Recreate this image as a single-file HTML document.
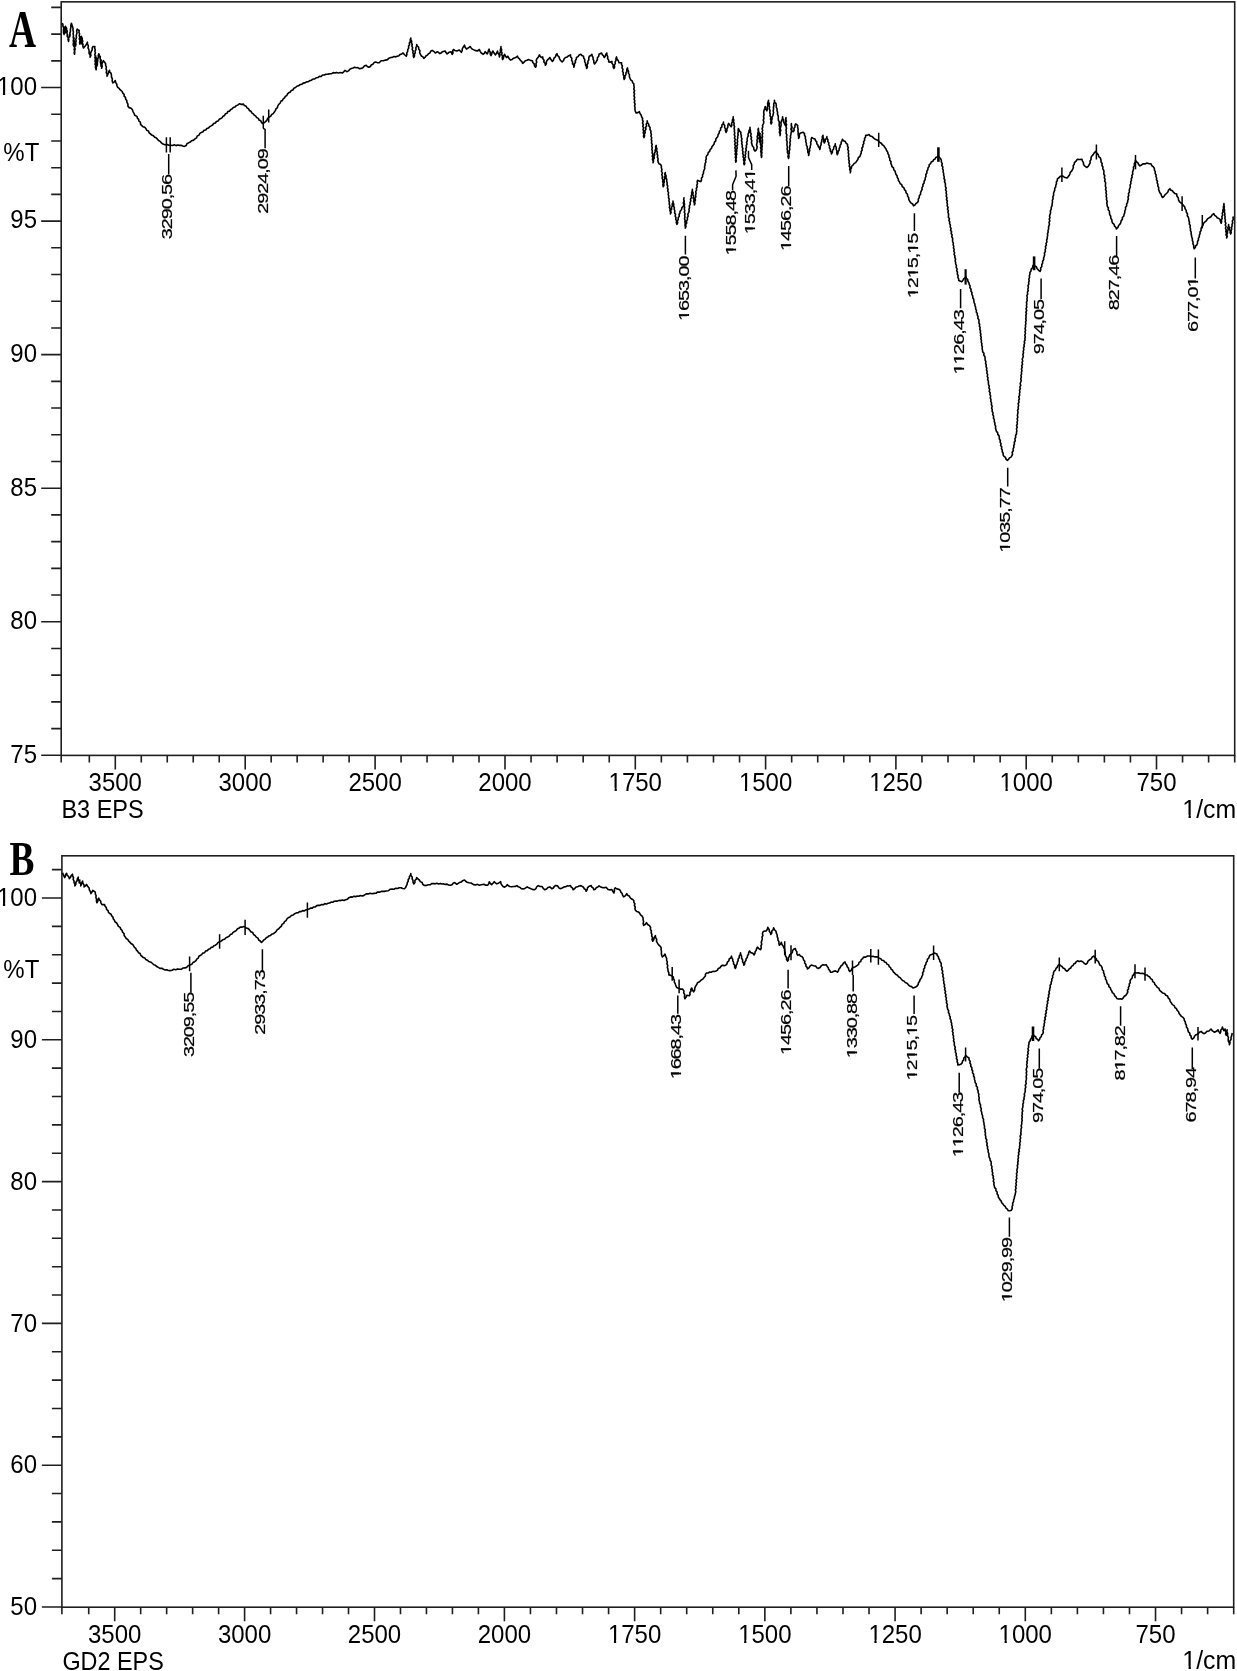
<!DOCTYPE html>
<html><head><meta charset="utf-8"><style>
html,body{margin:0;padding:0;background:#fff;overflow:hidden;width:1237px;height:1671px;}
svg{display:block;will-change:transform;}
text{font-family:"Liberation Sans", sans-serif;fill:#000;font-kerning:none;font-feature-settings:"kern" 0;}
.pk{stroke:#000;stroke-width:0.2px;}
.lt{font-family:"Liberation Serif", serif;font-weight:bold;font-size:52px;}
</style></head><body>
<svg width="1237" height="1671" viewBox="0 0 1237 1671">
<rect x="61.2" y="1.85" width="1173.5" height="753.55" fill="none" stroke="#1e1e1e" stroke-width="1.6"/>
<path d="M41.2 755.3H61.2 M51.2 728.59H61.2 M51.2 701.88H61.2 M51.2 675.17H61.2 M51.2 648.46H61.2 M41.2 621.75H61.2 M51.2 595.04H61.2 M51.2 568.33H61.2 M51.2 541.62H61.2 M51.2 514.91H61.2 M41.2 488.2H61.2 M51.2 461.49H61.2 M51.2 434.78H61.2 M51.2 408.07H61.2 M51.2 381.36H61.2 M41.2 354.65H61.2 M51.2 327.94H61.2 M51.2 301.23H61.2 M51.2 274.52H61.2 M51.2 247.81H61.2 M41.2 221.1H61.2 M51.2 194.39H61.2 M51.2 167.68H61.2 M51.2 140.97H61.2 M51.2 114.26H61.2 M41.2 87.55H61.2 M51.2 60.84H61.2 M51.2 34.13H61.2 M51.2 7.42H61.2 M89.32 755.4V762.4 M115.3 755.4V769.4 M141.28 755.4V762.4 M167.26 755.4V762.4 M193.24 755.4V762.4 M219.22 755.4V762.4 M245.2 755.4V769.4 M271.18 755.4V762.4 M297.16 755.4V762.4 M323.14 755.4V762.4 M349.12 755.4V762.4 M375.1 755.4V769.4 M401.08 755.4V762.4 M427.06 755.4V762.4 M453.04 755.4V762.4 M479.02 755.4V762.4 M505 755.4V769.4 M531.06 755.4V762.4 M557.12 755.4V762.4 M583.18 755.4V762.4 M609.24 755.4V762.4 M635.3 755.4V769.4 M661.36 755.4V762.4 M687.42 755.4V762.4 M713.48 755.4V762.4 M739.54 755.4V762.4 M765.6 755.4V769.4 M791.66 755.4V762.4 M817.72 755.4V762.4 M843.78 755.4V762.4 M869.84 755.4V762.4 M895.9 755.4V769.4 M921.96 755.4V762.4 M948.02 755.4V762.4 M974.08 755.4V762.4 M1000.14 755.4V762.4 M1026.2 755.4V769.4 M1052.26 755.4V762.4 M1078.32 755.4V762.4 M1104.38 755.4V762.4 M1130.44 755.4V762.4 M1156.5 755.4V769.4 M1182.56 755.4V762.4 M1208.62 755.4V762.4 M61.2 755.4V762.4 M1234.7 755.4V762.4" stroke="#1e1e1e" stroke-width="1.6" fill="none"/>
<g transform="translate(37 94.85) scale(1 1.05)"><text class="ax" x="-40.04" y="0" style="font-size:24px;">100</text><rect x="-39" y="-2.79" width="4.94" height="4.39" fill="#fff"/><rect x="-31.84" y="-2.79" width="4.87" height="4.39" fill="#fff"/></g>
<g transform="translate(37 228.4) scale(1 1.05)"><text class="ax" x="-26.7" y="0" style="font-size:24px;">95</text></g>
<g transform="translate(37 361.95) scale(1 1.05)"><text class="ax" x="-26.7" y="0" style="font-size:24px;">90</text></g>
<g transform="translate(37 495.5) scale(1 1.05)"><text class="ax" x="-26.7" y="0" style="font-size:24px;">85</text></g>
<g transform="translate(37 629.05) scale(1 1.05)"><text class="ax" x="-26.7" y="0" style="font-size:24px;">80</text></g>
<g transform="translate(37 762.6) scale(1 1.05)"><text class="ax" x="-26.7" y="0" style="font-size:24px;">75</text></g>
<g transform="translate(3.3 161.3) scale(1 1.05)"><text class="ax" x="0" y="0" style="font-size:24px;">%T</text></g>
<g transform="translate(115.3 790.6) scale(1 1.05)"><text class="ax" x="-26.7" y="0" style="font-size:24px;">3500</text></g>
<g transform="translate(245.2 790.6) scale(1 1.05)"><text class="ax" x="-26.7" y="0" style="font-size:24px;">3000</text></g>
<g transform="translate(375.1 790.6) scale(1 1.05)"><text class="ax" x="-26.7" y="0" style="font-size:24px;">2500</text></g>
<g transform="translate(505 790.6) scale(1 1.05)"><text class="ax" x="-26.7" y="0" style="font-size:24px;">2000</text></g>
<g transform="translate(635.3 790.6) scale(1 1.05)"><text class="ax" x="-26.7" y="0" style="font-size:24px;">1750</text><rect x="-25.65" y="-2.79" width="4.94" height="4.39" fill="#fff"/><rect x="-18.49" y="-2.79" width="4.87" height="4.39" fill="#fff"/></g>
<g transform="translate(765.6 790.6) scale(1 1.05)"><text class="ax" x="-26.7" y="0" style="font-size:24px;">1500</text><rect x="-25.65" y="-2.79" width="4.94" height="4.39" fill="#fff"/><rect x="-18.49" y="-2.79" width="4.87" height="4.39" fill="#fff"/></g>
<g transform="translate(895.9 790.6) scale(1 1.05)"><text class="ax" x="-26.7" y="0" style="font-size:24px;">1250</text><rect x="-25.65" y="-2.79" width="4.94" height="4.39" fill="#fff"/><rect x="-18.49" y="-2.79" width="4.87" height="4.39" fill="#fff"/></g>
<g transform="translate(1026.2 790.6) scale(1 1.05)"><text class="ax" x="-26.7" y="0" style="font-size:24px;">1000</text><rect x="-25.65" y="-2.79" width="4.94" height="4.39" fill="#fff"/><rect x="-18.49" y="-2.79" width="4.87" height="4.39" fill="#fff"/></g>
<g transform="translate(1156.5 790.6) scale(1 1.05)"><text class="ax" x="-20.02" y="0" style="font-size:24px;">750</text></g>
<g transform="translate(61.4 817.8) scale(0.98 1.05)"><text class="ax" x="0" y="0" style="font-size:24px;">B3 EPS</text></g>
<g transform="translate(1236.2 817.8) scale(1.035 1.05)"><text class="ax" x="-52.01" y="0" style="font-size:24px;">1/cm</text><rect x="-50.97" y="-2.79" width="4.94" height="4.39" fill="#fff"/><rect x="-43.8" y="-2.79" width="4.87" height="4.39" fill="#fff"/></g>
<text class="lt" transform="translate(9 46.9) scale(0.72 1)" style="font-size:52px">A</text>
<rect x="61.9" y="855.8" width="1171.8" height="751.4" fill="none" stroke="#1e1e1e" stroke-width="1.6"/>
<path d="M41.9 1607H61.9 M51.9 1578.64H61.9 M51.9 1550.28H61.9 M51.9 1521.92H61.9 M51.9 1493.56H61.9 M41.9 1465.2H61.9 M51.9 1436.84H61.9 M51.9 1408.48H61.9 M51.9 1380.12H61.9 M51.9 1351.76H61.9 M41.9 1323.4H61.9 M51.9 1295.04H61.9 M51.9 1266.68H61.9 M51.9 1238.32H61.9 M51.9 1209.96H61.9 M41.9 1181.6H61.9 M51.9 1153.24H61.9 M51.9 1124.88H61.9 M51.9 1096.52H61.9 M51.9 1068.16H61.9 M41.9 1039.8H61.9 M51.9 1011.44H61.9 M51.9 983.08H61.9 M51.9 954.72H61.9 M51.9 926.36H61.9 M41.9 898H61.9 M51.9 869.64H61.9 M88.72 1607.2V1614.2 M114.7 1607.2V1621.2 M140.68 1607.2V1614.2 M166.66 1607.2V1614.2 M192.64 1607.2V1614.2 M218.62 1607.2V1614.2 M244.6 1607.2V1621.2 M270.58 1607.2V1614.2 M296.56 1607.2V1614.2 M322.54 1607.2V1614.2 M348.52 1607.2V1614.2 M374.5 1607.2V1621.2 M400.48 1607.2V1614.2 M426.46 1607.2V1614.2 M452.44 1607.2V1614.2 M478.42 1607.2V1614.2 M504.4 1607.2V1621.2 M530.44 1607.2V1614.2 M556.49 1607.2V1614.2 M582.53 1607.2V1614.2 M608.58 1607.2V1614.2 M634.62 1607.2V1621.2 M660.67 1607.2V1614.2 M686.71 1607.2V1614.2 M712.76 1607.2V1614.2 M738.8 1607.2V1614.2 M764.85 1607.2V1621.2 M790.89 1607.2V1614.2 M816.94 1607.2V1614.2 M842.99 1607.2V1614.2 M869.03 1607.2V1614.2 M895.08 1607.2V1621.2 M921.12 1607.2V1614.2 M947.16 1607.2V1614.2 M973.21 1607.2V1614.2 M999.25 1607.2V1614.2 M1025.3 1607.2V1621.2 M1051.35 1607.2V1614.2 M1077.39 1607.2V1614.2 M1103.43 1607.2V1614.2 M1129.48 1607.2V1614.2 M1155.53 1607.2V1621.2 M1181.57 1607.2V1614.2 M1207.62 1607.2V1614.2 M61.9 1607.2V1614.2 M1233.7 1607.2V1614.2" stroke="#1e1e1e" stroke-width="1.6" fill="none"/>
<g transform="translate(37 906.1) scale(1 1.05)"><text class="ax" x="-40.04" y="0" style="font-size:24px;">100</text><rect x="-39" y="-2.79" width="4.94" height="4.39" fill="#fff"/><rect x="-31.84" y="-2.79" width="4.87" height="4.39" fill="#fff"/></g>
<g transform="translate(37 1047.9) scale(1 1.05)"><text class="ax" x="-26.7" y="0" style="font-size:24px;">90</text></g>
<g transform="translate(37 1189.7) scale(1 1.05)"><text class="ax" x="-26.7" y="0" style="font-size:24px;">80</text></g>
<g transform="translate(37 1331.5) scale(1 1.05)"><text class="ax" x="-26.7" y="0" style="font-size:24px;">70</text></g>
<g transform="translate(37 1473.3) scale(1 1.05)"><text class="ax" x="-26.7" y="0" style="font-size:24px;">60</text></g>
<g transform="translate(37 1615.1) scale(1 1.05)"><text class="ax" x="-26.7" y="0" style="font-size:24px;">50</text></g>
<g transform="translate(3.3 977.6) scale(1 1.05)"><text class="ax" x="0" y="0" style="font-size:24px;">%T</text></g>
<g transform="translate(114.7 1642.7) scale(1 1.05)"><text class="ax" x="-26.7" y="0" style="font-size:24px;">3500</text></g>
<g transform="translate(244.6 1642.7) scale(1 1.05)"><text class="ax" x="-26.7" y="0" style="font-size:24px;">3000</text></g>
<g transform="translate(374.5 1642.7) scale(1 1.05)"><text class="ax" x="-26.7" y="0" style="font-size:24px;">2500</text></g>
<g transform="translate(504.4 1642.7) scale(1 1.05)"><text class="ax" x="-26.7" y="0" style="font-size:24px;">2000</text></g>
<g transform="translate(634.62 1642.7) scale(1 1.05)"><text class="ax" x="-26.7" y="0" style="font-size:24px;">1750</text><rect x="-25.65" y="-2.79" width="4.94" height="4.39" fill="#fff"/><rect x="-18.49" y="-2.79" width="4.87" height="4.39" fill="#fff"/></g>
<g transform="translate(764.85 1642.7) scale(1 1.05)"><text class="ax" x="-26.7" y="0" style="font-size:24px;">1500</text><rect x="-25.65" y="-2.79" width="4.94" height="4.39" fill="#fff"/><rect x="-18.49" y="-2.79" width="4.87" height="4.39" fill="#fff"/></g>
<g transform="translate(895.08 1642.7) scale(1 1.05)"><text class="ax" x="-26.7" y="0" style="font-size:24px;">1250</text><rect x="-25.65" y="-2.79" width="4.94" height="4.39" fill="#fff"/><rect x="-18.49" y="-2.79" width="4.87" height="4.39" fill="#fff"/></g>
<g transform="translate(1025.3 1642.7) scale(1 1.05)"><text class="ax" x="-26.7" y="0" style="font-size:24px;">1000</text><rect x="-25.65" y="-2.79" width="4.94" height="4.39" fill="#fff"/><rect x="-18.49" y="-2.79" width="4.87" height="4.39" fill="#fff"/></g>
<g transform="translate(1155.53 1642.7) scale(1 1.05)"><text class="ax" x="-20.02" y="0" style="font-size:24px;">750</text></g>
<g transform="translate(62.4 1669.6) scale(0.975 1.05)"><text class="ax" x="0" y="0" style="font-size:24px;">GD2 EPS</text></g>
<g transform="translate(1236.2 1669.3) scale(1.035 1.05)"><text class="ax" x="-52.01" y="0" style="font-size:24px;">1/cm</text><rect x="-50.97" y="-2.79" width="4.94" height="4.39" fill="#fff"/><rect x="-43.8" y="-2.79" width="4.87" height="4.39" fill="#fff"/></g>
<text class="lt" transform="translate(9.4 874.9) scale(0.756 1)" style="font-size:49.5px">B</text>
<g transform="translate(172.4 174.9) rotate(-90) scale(1.42 1)"><text class="pk" x="-45.36" y="0" style="font-size:14px;letter-spacing:-0.75px;">3290,56</text></g>
<g transform="translate(267.5 149.3) rotate(-90) scale(1.42 1)"><text class="pk" x="-45.36" y="0" style="font-size:14px;letter-spacing:-0.75px;">2924,09</text></g>
<g transform="translate(688.9 256.5) rotate(-90) scale(1.42 1)"><text class="pk" x="-45.36" y="0" style="font-size:14px;letter-spacing:-0.75px;">1653,00</text><rect x="-45" y="-2.05" width="3.11" height="3.65" fill="#fff"/><rect x="-40.55" y="-2.05" width="3.09" height="3.65" fill="#fff"/></g>
<g transform="translate(735.5 191.05) rotate(-90) scale(1.42 1)"><text class="pk" x="-45.36" y="0" style="font-size:14px;letter-spacing:-0.75px;">1558,48</text><rect x="-45" y="-2.05" width="3.11" height="3.65" fill="#fff"/><rect x="-40.55" y="-2.05" width="3.09" height="3.65" fill="#fff"/></g>
<g transform="translate(754.8 169.85) rotate(-90) scale(1.42 1)"><text class="pk" x="-45.36" y="0" style="font-size:14px;letter-spacing:-0.75px;">1533,41</text><rect x="-45" y="-2.05" width="3.11" height="3.65" fill="#fff"/><rect x="-40.55" y="-2.05" width="3.09" height="3.65" fill="#fff"/><rect x="-6.68" y="-2.05" width="3.11" height="3.65" fill="#fff"/><rect x="-2.23" y="-2.05" width="3.09" height="3.65" fill="#fff"/></g>
<g transform="translate(791.4 186.55) rotate(-90) scale(1.42 1)"><text class="pk" x="-45.36" y="0" style="font-size:14px;letter-spacing:-0.75px;">1456,26</text><rect x="-45" y="-2.05" width="3.11" height="3.65" fill="#fff"/><rect x="-40.55" y="-2.05" width="3.09" height="3.65" fill="#fff"/></g>
<g transform="translate(917.5 233.85) rotate(-90) scale(1.42 1)"><text class="pk" x="-45.36" y="0" style="font-size:14px;letter-spacing:-0.75px;">1215,15</text><rect x="-45" y="-2.05" width="3.11" height="3.65" fill="#fff"/><rect x="-40.55" y="-2.05" width="3.09" height="3.65" fill="#fff"/><rect x="-30.93" y="-2.05" width="3.11" height="3.65" fill="#fff"/><rect x="-26.48" y="-2.05" width="3.09" height="3.65" fill="#fff"/><rect x="-13.72" y="-2.05" width="3.11" height="3.65" fill="#fff"/><rect x="-9.26" y="-2.05" width="3.09" height="3.65" fill="#fff"/></g>
<g transform="translate(963.8 310.2) rotate(-90) scale(1.42 1)"><text class="pk" x="-45.36" y="0" style="font-size:14px;letter-spacing:-0.75px;">1126,43</text><rect x="-45" y="-2.05" width="3.11" height="3.65" fill="#fff"/><rect x="-40.55" y="-2.05" width="3.09" height="3.65" fill="#fff"/><rect x="-37.96" y="-2.05" width="3.11" height="3.65" fill="#fff"/><rect x="-33.51" y="-2.05" width="3.09" height="3.65" fill="#fff"/></g>
<g transform="translate(1009.9 488.35) rotate(-90) scale(1.42 1)"><text class="pk" x="-45.36" y="0" style="font-size:14px;letter-spacing:-0.75px;">1035,77</text><rect x="-45" y="-2.05" width="3.11" height="3.65" fill="#fff"/><rect x="-40.55" y="-2.05" width="3.09" height="3.65" fill="#fff"/></g>
<g transform="translate(1043.7 299.95) rotate(-90) scale(1.42 1)"><text class="pk" x="-38.32" y="0" style="font-size:14px;letter-spacing:-0.75px;">974,05</text></g>
<g transform="translate(1119.4 255.85) rotate(-90) scale(1.42 1)"><text class="pk" x="-38.32" y="0" style="font-size:14px;letter-spacing:-0.75px;">827,46</text></g>
<g transform="translate(1198 277.6) rotate(-90) scale(1.42 1)"><text class="pk" x="-38.32" y="0" style="font-size:14px;letter-spacing:-0.75px;">677,01</text><rect x="-6.68" y="-2.05" width="3.11" height="3.65" fill="#fff"/><rect x="-2.23" y="-2.05" width="3.09" height="3.65" fill="#fff"/></g>
<path d="M61.9 23.5 L62.9 24.2 L62.92 26.15 L63.7 28.03 L63.5 30 L63.43 32.25 L64.1 34.4 L64.44 32.56 L64.06 30.68 L64.75 28.87 L64.6 27 L64.43 29.03 L65.32 30.97 L65.1 33 L65.39 31.36 L65.21 29.69 L65.87 28.08 L65.6 26.4 L65.5 28.29 L66.31 30.1 L66.1 32 L66.48 30.02 L66.6 28 L66.5 29.63 L67.31 31.16 L66.92 32.82 L67.3 34.4 L67.17 36.22 L68.31 37.83 L68.06 39.67 L68.5 41.4 L68.82 39.82 L68.55 38.17 L69.45 36.65 L69.2 35 L69.7 36.8 L70.13 35 L69.85 33.13 L70.49 31.35 L70.4 29.5 L70.88 27.42 L70.86 25.27 L71.4 23.2 L72.4 26.2 L73.1 28.6 L72.88 30.35 L73.49 32.07 L73.04 33.83 L73.51 35.55 L73.15 37.31 L73.68 39.03 L73.22 40.79 L73.64 42.52 L73.15 44.27 L73.6 46 L74.01 44.42 L73.46 42.78 L74.09 41.21 L73.55 39.57 L74.1 38 L73.73 39.64 L74.35 41.26 L73.98 42.9 L74.62 44.51 L73.94 46.16 L74.77 47.77 L74.11 49.42 L74.82 51.03 L74.11 52.68 L74.5 54.3 L74.81 52.59 L74.35 50.85 L75.16 49.17 L74.43 47.41 L75.21 45.73 L75 44 L75.5 46 L75.96 44.37 L75.64 42.67 L76.14 41.05 L75.69 39.34 L76.48 37.74 L76.17 36.04 L76.5 34.4 L77.04 32.67 L76.61 30.82 L77.2 29.1 L78.3 30 L79.2 30.5 L78.94 32.22 L79.63 33.89 L79.19 35.61 L79.84 37.28 L79.26 39.02 L80.02 40.68 L79.55 42.41 L79.9 44.1 L80.31 42.35 L80.01 40.54 L80.42 38.79 L80.4 37 L80.21 39.03 L81.18 40.96 L80.9 43 L81.35 41.35 L80.89 39.63 L81.46 37.99 L81.4 36.3 L81.23 38.24 L82.09 40.12 L81.4 42.1 L81.9 44 L82.34 42.02 L81.76 39.97 L82.3 38 L82.19 39.61 L82.8 41.18 L82.17 42.83 L83.02 44.38 L82.8 46 L83.5 48 L85.2 46 L86.54 44.24 L87.4 42.2 L87.52 44.08 L88.38 45.82 L87.99 47.8 L88.89 49.54 L89.1 51.4 L89.06 53.4 L90.15 55.2 L90.1 57.2 L90.91 55.35 L90.54 53.26 L91.3 51.4 L92.24 49.89 L92.15 48.04 L93 46.5 L94.9 46.5 L94.63 48.12 L95.25 49.71 L94.86 51.33 L95.46 52.92 L94.78 54.55 L95.33 56.14 L94.88 57.76 L95.5 59.35 L95 60.98 L95.53 62.57 L95.02 64.19 L95.69 65.78 L95.4 67.4 L95.78 65.78 L95.24 64.13 L95.72 62.52 L95.42 60.88 L95.88 59.26 L95.42 57.62 L95.8 56 L95.43 57.73 L96.26 59.44 L95.53 61.18 L96.34 62.89 L95.77 64.63 L96.43 66.34 L95.72 68.08 L96.1 69.8 L96.33 68.12 L96.1 66.42 L96.45 64.75 L96.01 63.04 L96.67 61.38 L96.36 59.68 L96.6 58 L96.35 59.62 L97 61.19 L96.68 62.81 L97.11 64.39 L97 66 L97.45 64.28 L97.3 62.5 L97.79 60.79 L97.68 58.98 L98.55 57.34 L98.23 55.49 L98.8 53.8 L99.34 55.36 L100.3 56.7 L100.12 58.58 L100.64 60.41 L100.34 62.29 L100.97 64.13 L100.8 66 L101.13 64.01 L100.9 61.99 L101.2 60 L100.86 61.68 L101.66 63.31 L101.24 64.99 L101.85 66.62 L101.6 68.3 L102.19 66.58 L101.86 64.75 L102.2 63 L103.4 60.6 L104.39 62.13 L105.6 63.5 L105.62 65.32 L106.36 67.06 L106.02 68.92 L106.75 70.66 L106.25 72.54 L107.1 74.27 L107 76.1 L107.94 74.22 L108.5 72.2 L109.5 70.3 L109.72 72.06 L111.13 73.36 L111.4 75.1 L111.48 77.11 L112.35 78.96 L112.19 81.01 L112.9 82.9 L114.28 81.88 L115.3 80.5 L115.57 82.36 L116.66 83.96 L117 85.8 L117.74 87.3 L119.12 88.31 L120 89.7 L122.2 91.5 L122.76 93.1 L124.13 94.3 L124.13 96.19 L125.47 97.39 L125.67 99.18 L126.8 100.5 L126.94 102.44 L127.96 104.22 L127.9 106.2 L129.18 107.63 L131.06 108.25 L132.4 109.6 L132.97 111.58 L134.06 113.35 L134.7 115.3 L137 116.4 L137.38 118.08 L138.63 119.33 L138.9 121.08 L140.39 122.2 L140.47 124.04 L141.5 125.4 L142.89 126.68 L144.75 127.34 L146 128.8 L146.79 130.37 L148.52 131.11 L149.15 132.82 L150.5 133.9 L151.71 135.12 L153.37 135.74 L154.46 137.12 L156.15 137.7 L157.3 139 L158.54 140.48 L160.28 141.4 L161.46 142.95 L163 144.1 L164.93 144.72 L166.98 144.42 L168.88 145.21 L170.9 145.2 L172.6 145.44 L174.3 144.79 L176 145.62 L177.7 145.06 L179.4 145.4 L181.1 145.2 L182.72 146.02 L184.5 146.4 L186.13 145.57 L186.92 143.78 L188.5 142.9 L190.25 142.08 L191.64 140.68 L193.56 140.12 L195 138.8 L196.56 137.8 L197.26 135.94 L199.01 135.13 L199.83 133.39 L201.4 132.4 L202.98 131.76 L204.01 130.3 L205.81 129.98 L206.83 128.51 L208.53 128.06 L209.62 126.69 L211.1 125.9 L212.6 125.01 L213.62 123.48 L215.38 122.93 L216.42 121.43 L218.22 120.94 L219.17 119.32 L220.8 118.6 L222.18 117.67 L223.06 116.2 L224.59 115.43 L225.37 113.85 L227.08 113.28 L227.78 111.6 L229.57 111.12 L230.5 109.7 L232.08 108.86 L233.3 107.48 L235.04 106.89 L236.35 105.64 L238 104.92 L239.4 103.8 L241.42 104.36 L243.5 104.1 L244.44 105.58 L246.2 106.25 L246.97 107.91 L248.58 108.72 L249.29 110.43 L250.95 111.2 L251.76 112.81 L253.2 113.8 L254.27 115.16 L255.74 116.11 L256.68 117.59 L258.34 118.36 L259.04 120.08 L260.78 120.77 L261.49 122.48 L262.9 123.5 L265.3 121.9 L266.81 120.41 L267.67 118.39 L269.3 117 L270.8 116.08 L271.65 114.5 L273.22 113.65 L274.2 112.2 L275.3 110.66 L275.97 108.87 L277.44 107.55 L277.91 105.64 L279 104.1 L280.24 102.98 L280.82 101.3 L282.44 100.51 L283.18 98.97 L284.53 97.94 L285.31 96.43 L286.82 95.55 L287.5 93.95 L288.7 92.8 L290.31 92.05 L291.24 90.44 L293.03 89.89 L293.84 88.14 L295.59 87.56 L296.8 86.3 L298.51 85.78 L299.94 84.61 L301.74 84.32 L303.16 83.14 L304.98 82.87 L306.49 81.9 L308.35 81.72 L309.8 80.6 L311.49 80.17 L312.9 79.02 L314.73 78.94 L316.15 77.82 L317.91 77.54 L319.3 76.37 L321.23 76.53 L322.52 75.07 L324.35 75 L325.9 74.2 L327.97 74.15 L330 73.7 L331.69 73.7 L333.16 72.61 L334.94 73.03 L336.5 72.4 L338.4 72.95 L340.4 72.46 L342.3 73 L343.75 71.85 L344.9 70.4 L346.8 71.7 L348.48 70.88 L349.67 69.38 L351.3 68.5 L353.03 68.05 L354.6 67.2 L356.17 67.68 L357.84 67.63 L359.31 68.61 L361 68.5 L362.88 67.67 L364.29 66.08 L366.2 65.3 L367.3 66.52 L368.8 67.2 L370.37 66.5 L371.24 64.92 L372.84 64.26 L373.85 62.85 L375.3 62 L377.21 62.58 L379.2 62.7 L381.1 60.7 L383.4 60.8 L385.6 60.1 L387.52 59.61 L388.96 58.16 L390.8 57.5 L392.47 57.41 L393.99 56.55 L395.74 56.84 L397.3 56.2 L398.91 55.68 L400.1 54.41 L401.72 53.92 L403.1 53 L404.55 54.75 L406.3 56.2 L406.86 54.59 L406.82 52.83 L407.68 51.3 L407.78 49.58 L408.67 48.05 L408.53 46.27 L409.54 44.77 L409.29 42.97 L410.38 41.49 L410.21 39.7 L410.8 38.1 L410.76 39.76 L411.68 41.27 L411.39 42.97 L412.23 44.5 L411.86 46.21 L412.68 47.74 L412.11 49.48 L413.19 50.97 L412.82 52.69 L413.47 54.24 L413.26 55.93 L413.8 57.5 L414.58 55.98 L414.3 54.23 L415.29 52.75 L415.07 51.01 L416.02 49.53 L415.83 47.79 L416.57 46.26 L416.7 44.6 L417.31 46.15 L418.6 47.2 L418.7 49.08 L419.96 50.64 L419.64 52.63 L420.5 54.3 L421.31 55.93 L422.98 56.88 L423.8 58.5 L425.06 57.48 L425.86 56.01 L427.31 55.18 L428.3 53.9 L429.84 53 L430.67 51.31 L432.2 50.4 L434.1 51.7 L435.4 53 L437.4 51.7 L439.9 53.6 L441.33 52.82 L442.5 51.7 L445.1 51 L445.97 52.54 L447.1 53.9 L449 52.3 L451 51.7 L452.2 54.3 L453.06 52.81 L452.69 51 L453.5 49.5 L454.8 50.4 L456.8 51 L459.3 50 L461.3 52.3 L462.22 50.71 L462.28 48.79 L463.2 47.2 L464.5 45.2 L465.14 47.33 L466.5 49.1 L468.4 47.8 L470.3 46.5 L471.08 47.97 L472.3 49.1 L474.9 50.4 L477.5 51 L479.4 49.5 L480.12 51.37 L481.3 53 L483.3 54.3 L484.45 53.14 L485.2 51.7 L487.2 53.9 L488.03 52.38 L488.33 50.65 L489.1 49.1 L489.25 50.82 L490.31 52.28 L490.22 54.06 L491 55.6 L491.78 54.13 L492.04 52.44 L492.9 51 L494.05 53.05 L495.5 54.9 L496.66 53.03 L497.5 51 L497.93 53.03 L499.14 54.81 L499.4 56.9 L499.92 55.21 L499.68 53.39 L500.52 51.75 L500.26 49.93 L500.87 48.25 L501 46.5 L500.9 48.16 L501.69 49.71 L501.26 51.42 L502.07 52.97 L501.65 54.67 L502.56 56.21 L502.19 57.9 L502.6 59.5 L503.54 57.87 L503.67 55.93 L504.6 54.3 L505.37 56.01 L506.5 57.5 L507.8 56.2 L508.88 58.3 L510.4 60.1 L512.16 59.42 L513.6 58.2 L515.74 57.57 L517.5 56.2 L518.16 57.76 L519.5 58.8 L520.39 60.43 L521.91 61.6 L522.7 63.3 L524.11 62.11 L525.3 60.7 L526.96 60.25 L528.5 59.5 L530.36 60.38 L532.4 60.7 L532.83 62.51 L534.17 63.87 L534.46 65.74 L535.6 67.2 L536.27 65.58 L535.89 63.8 L536.73 62.21 L536.24 60.42 L536.9 58.8 L538.41 56.99 L539.5 54.9 L540.16 56.41 L541.4 57.5 L542.7 56.9 L542.87 58.69 L544.05 60.16 L543.87 62.06 L545.18 63.5 L545.3 65.3 L546.37 63.72 L546.34 61.72 L547.3 60.1 L548.69 58.93 L549.8 57.5 L550.92 59.57 L552.4 61.4 L553.5 59.94 L553.97 58.12 L555.48 56.91 L555.95 55.08 L557 53.6 L557.55 55.49 L559.06 56.91 L559.6 58.8 L560.66 60.55 L562.1 62 L563.44 60.68 L564.15 58.89 L565.4 57.5 L567.27 56.96 L568.73 55.63 L570.5 54.9 L570.54 56.77 L571.82 58.31 L571.59 60.26 L572.6 61.87 L572.45 63.8 L573.75 65.33 L573.8 67.2 L574.41 65.63 L574.3 63.87 L575.49 62.45 L575.2 60.64 L576.31 59.21 L576.4 57.5 L578.06 56.66 L579.15 55.02 L580.9 54.3 L581.94 55.61 L583.5 56.2 L583.71 58.02 L584.79 59.62 L584.61 61.54 L585.51 63.18 L585.56 65.05 L586.41 66.7 L586.7 68.5 L587.48 66.83 L587.02 64.9 L587.98 63.26 L587.87 61.4 L588.82 59.77 L588.76 57.92 L589.3 56.2 L590.73 55.43 L591.9 54.3 L592.13 55.97 L593.13 57.44 L593.07 59.19 L593.82 60.72 L593.8 62.45 L594.5 64 L595.56 62.78 L596.4 61.4 L597.36 59.74 L597.39 57.74 L598.72 56.21 L599 54.3 L601.6 53 L602.29 54.6 L603.53 55.89 L604.2 57.5 L605.33 56.15 L605.74 54.39 L606.8 53 L606.87 54.87 L607.77 56.56 L607.6 58.47 L608.7 60.12 L608.7 62 L610.37 62.08 L611.9 61.4 L611.97 63.29 L613.2 64.87 L613.12 66.8 L613.9 68.5 L614.67 66.93 L614.27 65.1 L615.32 63.6 L615.14 61.82 L615.98 60.26 L615.96 58.52 L616.5 56.9 L616.98 58.99 L618.32 60.7 L619 62.7 L621.6 62.7 L621.49 64.44 L622.42 66.01 L621.95 67.81 L623.01 69.36 L622.46 71.17 L623.34 72.75 L623.13 74.5 L623.99 76.09 L623.71 77.86 L624.2 79.5 L624.95 77.92 L624.9 76.12 L625.9 74.61 L625.96 72.83 L626.82 71.29 L626.76 69.48 L627.5 67.9 L627.69 69.67 L628.59 71.27 L628.38 73.14 L629.51 74.68 L629.3 76.55 L630 78.2 L630.69 79.84 L632.16 80.96 L632.76 82.66 L633.9 84 L633.83 85.69 L634.26 87.35 L633.78 89.05 L634.58 90.7 L633.84 92.42 L634.6 94.07 L633.92 95.78 L634.71 97.43 L634.1 99.14 L634.83 100.79 L634.26 102.49 L635.15 104.14 L634.54 105.85 L635.02 107.51 L634.9 109.2 L635.24 111.21 L636.2 113 L637.91 112.63 L639.4 111.7 L639.98 113.43 L641.12 114.89 L641.57 116.69 L642.6 118.2 L642.44 119.83 L643.08 121.42 L642.52 123.08 L643.35 124.65 L642.78 126.31 L643.67 127.87 L642.99 129.54 L643.76 131.11 L643.21 132.77 L644.02 134.34 L643.45 136.01 L643.9 137.6 L644.56 135.98 L644.3 134.19 L645.22 132.62 L644.89 130.82 L645.97 129.28 L645.51 127.45 L646.6 125.92 L646.17 124.09 L647.25 122.56 L647.2 120.8 L647.53 122.63 L648.7 124.15 L648.9 126.03 L650.07 127.54 L649.98 129.53 L651 131.1 L650.8 132.79 L651.39 134.43 L650.92 136.13 L651.71 137.76 L651.24 139.46 L651.78 141.1 L651.44 142.8 L652.21 144.42 L651.68 146.13 L652.3 147.77 L651.82 149.47 L652.4 151.11 L652.07 152.81 L652.91 154.43 L652.23 156.15 L652.95 157.78 L652.44 159.49 L653.22 161.11 L653 162.8 L653.49 161.25 L653.38 159.6 L654.28 158.13 L653.95 156.43 L654.61 154.92 L654.36 153.24 L655.33 151.78 L655.08 150.1 L655.91 148.62 L655.55 146.92 L656.2 145.4 L656.21 147.1 L656.94 148.72 L656.44 150.48 L657.39 152.07 L656.98 153.83 L657.72 155.44 L657.39 157.18 L658.11 158.8 L657.81 160.54 L658.2 162.2 L658.97 163.74 L660.65 164.54 L661.4 166.1 L661.32 167.85 L661.92 169.53 L661.44 171.32 L662.39 172.97 L661.79 174.76 L662.49 176.44 L662.09 178.21 L663 179.87 L662.59 181.65 L663.25 183.33 L662.77 185.11 L663.3 186.8 L663.9 185.26 L663.55 183.6 L664.3 182.08 L664 180.42 L664.85 178.92 L664.36 177.23 L665.27 175.74 L664.72 174.04 L665.3 172.5 L665.3 174.29 L666.15 175.93 L665.95 177.75 L666.74 179.4 L666.71 181.2 L667.2 182.9 L667.01 184.57 L667.78 186.14 L667.34 187.83 L668.08 189.4 L667.68 191.09 L668.57 192.65 L668.15 194.34 L668.71 195.94 L668.46 197.61 L669.17 199.19 L668.89 200.86 L669.41 202.46 L669.24 204.13 L669.88 205.71 L669.31 207.42 L670.1 208.98 L669.92 210.65 L670.59 212.23 L670.4 213.9 L671.11 212.36 L670.62 210.59 L671.7 209.13 L671.46 207.4 L672.42 205.92 L672.18 204.19 L673.02 202.68 L673 201 L673.12 202.69 L673.81 204.29 L673.55 206.04 L674.36 207.62 L674.21 209.35 L674.88 210.95 L674.56 212.71 L675.51 214.27 L675.19 216.03 L675.98 217.61 L675.71 219.37 L676.58 220.93 L676.3 222.69 L676.9 224.3 L677.71 222.78 L677.26 220.94 L678.25 219.46 L678.12 217.71 L679.29 216.27 L679.07 214.49 L679.95 212.99 L680.1 211.3 L681.47 209.77 L681.94 207.67 L683.4 206.2 L683.78 204.54 L683.23 202.81 L684.13 201.19 L683.7 199.47 L684 197.8 L683.65 199.42 L684.28 200.99 L684.02 202.61 L684.62 204.19 L684.19 205.81 L684.66 207.39 L684.3 209.01 L684.83 210.59 L684.22 212.22 L685.1 213.78 L684.61 215.41 L684.98 216.99 L684.49 218.62 L685.11 220.19 L684.81 221.81 L685.27 223.39 L685 225.01 L685.38 226.59 L685.3 228.2 L686 226.54 L685.67 224.66 L686.74 223.07 L686.37 221.18 L687.47 219.6 L687.25 217.75 L688.19 216.14 L687.8 214.24 L688.6 212.6 L689.2 210.99 L688.93 209.24 L689.57 207.63 L689.26 205.87 L690.27 204.33 L689.99 202.57 L690.82 201 L690.46 199.24 L691.34 197.67 L691.16 195.93 L691.83 194.33 L691.6 192.59 L692.32 191 L692.4 189.3 L692.21 191.09 L693.11 192.73 L692.73 194.54 L693.65 196.19 L693.14 198.01 L694.09 199.65 L693.59 201.48 L694.39 203.14 L694.4 204.9 L695.05 203.32 L694.65 201.6 L695.46 200.03 L694.85 198.29 L695.87 196.75 L695.53 195.04 L696.06 193.44 L695.72 191.73 L696.6 190.18 L696.28 188.47 L697.19 186.92 L696.81 185.2 L697.47 183.62 L697.11 181.9 L697.6 180.3 L699.13 181.11 L700.8 181.6 L701.52 180.01 L701.4 178.19 L702.61 176.74 L702.55 174.93 L703.45 173.4 L703.47 171.61 L704.1 170 L704.77 168.48 L704.52 166.79 L705.11 165.26 L705 163.6 L705.9 162.12 L705.6 160.42 L706.3 158.91 L706.03 157.22 L706.7 155.7 L707.94 154.43 L708.18 152.54 L709.64 151.41 L710.13 149.67 L711.45 148.45 L711.92 146.71 L713.1 145.4 L714.09 143.95 L714.44 142.17 L715.78 140.89 L715.83 138.96 L717 137.6 L717.94 136.17 L718.15 134.44 L719.26 133.08 L719.35 131.29 L720.66 130.02 L720.57 128.16 L721.92 126.9 L721.87 125.06 L723.13 123.77 L723.5 122.1 L723.53 123.92 L724.75 125.44 L724.58 127.31 L725.41 128.92 L725.42 130.74 L726.1 132.4 L726.91 130.68 L726.98 128.75 L727.89 127.07 L727.88 125.11 L728.7 123.4 L729.83 125.09 L731.2 126.6 L731.92 125.06 L731.53 123.3 L732.43 121.8 L732.31 120.09 L733.11 118.57 L733.2 116.9 L733.13 118.54 L733.89 120.09 L733.4 121.77 L734.15 123.32 L733.83 124.98 L734.6 126.53 L734.1 128.21 L734.5 129.8 L734.33 131.43 L734.79 133.03 L734.25 134.68 L735.05 136.27 L734.4 137.92 L735.32 139.5 L734.51 141.16 L735.41 142.74 L734.66 144.4 L735.58 145.98 L734.83 147.64 L735.46 149.23 L735.05 150.87 L735.73 152.47 L735.03 154.12 L735.92 155.7 L735.25 157.35 L736.04 158.95 L735.49 160.59 L735.8 162.2 L736.35 160.63 L735.71 158.97 L736.43 157.42 L736.01 155.78 L736.86 154.23 L736.24 152.58 L736.85 151.01 L736.61 149.39 L737.26 147.83 L736.73 146.18 L737.58 144.63 L737.09 142.99 L737.67 141.42 L737.17 139.77 L737.81 138.21 L737.62 136.59 L738.21 135.02 L737.81 133.38 L738.32 131.81 L738.06 130.18 L738.4 128.6 L739.37 130.68 L740.9 132.4 L740.77 134.05 L741.39 135.62 L741.24 137.28 L741.96 138.84 L741.39 140.53 L742.08 142.1 L741.65 143.78 L742.36 145.35 L742.14 147.01 L742.95 148.56 L742.36 150.26 L743.1 151.82 L742.63 153.5 L743.53 155.05 L742.97 156.74 L743.95 158.28 L743.44 159.97 L744.22 161.52 L743.73 163.21 L744.2 164.8 L744.82 163.25 L744.19 161.55 L745.13 160.04 L744.56 158.35 L745.59 156.85 L745.12 155.17 L745.71 153.62 L745.34 151.96 L746.27 150.44 L745.79 148.77 L746.56 147.23 L746.2 145.57 L747.06 144.05 L746.45 142.35 L747.34 140.84 L747.07 139.18 L747.4 137.6 L748.22 135.98 L748 134.1 L748.89 132.5 L748.91 130.68 L749.91 129.1 L750 127.3 L750.05 129 L750.55 130.64 L750.34 132.37 L751.17 133.97 L750.58 135.74 L751.58 137.33 L751.03 139.09 L751.83 140.7 L751.4 142.45 L751.9 144.1 L752.4 145.97 L753.73 147.48 L753.87 149.51 L755 151.1 L756.31 149.89 L756.9 148.2 L757.16 146.57 L756.57 144.93 L756.9 143.3 L757.26 141.63 L756.94 139.92 L757.59 138.27 L757.11 136.54 L757.87 134.91 L757.7 133.2 L758.37 131.63 L757.98 129.91 L758.4 128.3 L758.42 130.55 L759.1 132.7 L758.71 134.55 L759.59 136.37 L758.97 138.23 L759.59 140.05 L759.4 141.9 L759.8 140.26 L759.25 138.54 L760.24 136.96 L759.62 135.23 L760.1 133.6 L759.78 135.38 L760.73 137.1 L760 138.9 L760.76 140.63 L760.6 142.4 L760.39 144.21 L761.13 145.98 L760.56 147.81 L761.26 149.59 L760.67 151.41 L761.27 153.19 L761.1 155 L761.5 157.4 L761.86 155.81 L761.49 154.19 L761.99 152.61 L761.55 150.99 L762.04 149.41 L761.79 147.79 L762.28 146.21 L761.74 144.58 L762.54 143.02 L762.3 141.4 L762.55 139.8 L761.89 138.19 L762.58 136.6 L762.08 135 L762.77 133.4 L762.07 131.8 L762.71 130.2 L762.08 128.6 L762.77 127 L762.5 125.4 L763.5 123.5 L763.86 121.8 L763.21 120.1 L763.94 118.4 L763.5 116.7 L764.03 114.63 L763.67 112.49 L764 110.4 L764.77 108.5 L765.2 106.5 L765.64 108.86 L766.9 110.9 L767.35 109.17 L767.24 107.36 L767.83 105.65 L767.58 103.82 L768.1 102.1 L768.6 100.2 L768.39 101.96 L769.31 103.57 L768.92 105.35 L769.5 107 L769.3 108.84 L770.06 110.58 L769.77 112.44 L770.3 114.2 L770 115.87 L770.91 117.44 L770.45 119.13 L771.14 120.71 L770.62 122.41 L771.2 124 L771.84 122.35 L771.43 120.58 L772.11 118.94 L772 117.2 L772.85 115.8 L773.2 114.2 L773.6 112.54 L773.13 110.84 L773.57 109.18 L773.4 107.5 L773.87 105.76 L773.62 103.91 L774.53 102.23 L774.4 100.4 L774.65 102.24 L776.03 103.67 L776.3 105.5 L776.28 107.27 L777.11 108.87 L777.02 110.65 L777.6 112.3 L777.49 114.27 L778.29 116.14 L778.3 118.1 L778.31 120.11 L779.32 121.97 L779.2 124 L779.14 125.67 L779.83 127.29 L779.37 128.98 L779.91 130.61 L779.35 132.31 L780.08 133.93 L780 135.6 L780.44 133.88 L780.01 132.1 L780.83 130.41 L780.11 128.6 L780.7 126.9 L781.16 124.96 L780.88 122.93 L781.4 121 L782.4 118.96 L782.6 116.7 L782.68 118.35 L783.55 119.8 L783.36 121.51 L784.1 123 L785.3 125.4 L785.72 123.47 L785.36 121.47 L785.96 119.56 L786 117.6 L785.59 119.37 L786.42 121.12 L785.69 122.9 L786.59 124.64 L785.97 126.42 L786.53 128.17 L785.99 129.94 L786.3 131.7 L786.03 133.38 L786.9 134.99 L786.39 136.68 L786.92 138.32 L786.44 140.01 L787.16 141.63 L787 143.3 L786.95 145.14 L787.45 146.94 L787.06 148.8 L787.5 150.6 L787.43 152.59 L788.43 154.44 L787.95 156.49 L788.5 158.4 L789.02 156.64 L788.72 154.78 L789.36 153.03 L789.08 151.18 L789.85 149.44 L789.48 147.58 L789.9 145.8 L790.19 144.19 L789.82 142.55 L790.43 140.96 L789.99 139.32 L790.64 137.73 L790.4 136.1 L790.94 134.44 L791.1 132.7 L791.57 130.87 L790.87 129.01 L791.58 127.19 L791.19 125.34 L791.4 123.5 L791.34 125.45 L792.1 127.32 L791.59 129.31 L792.1 131.2 L793.3 131.7 L794.15 130.25 L793.86 128.46 L794.96 127.09 L794.94 125.37 L795.7 123.9 L797.7 125.4 L797.59 127.24 L798.12 129.04 L797.9 130.89 L798.2 132.7 L798.12 134.65 L798.63 136.56 L798.6 138.5 L799.39 136.82 L799.26 134.87 L800.1 133.2 L803 132.2 L804.5 133.6 L804.51 135.28 L805.48 136.77 L805.25 138.49 L805.96 140.03 L805.78 141.74 L806.4 143.3 L806.31 145.12 L807.29 146.74 L807.21 148.55 L807.8 150.25 L807.74 152.06 L808.61 153.7 L808.6 155.5 L809.04 153.91 L808.96 152.23 L809.79 150.71 L809.29 148.96 L810.26 147.46 L810.3 145.8 L810.9 144.19 L810.57 142.43 L811.28 140.84 L811.18 139.12 L811.7 137.5 L813.28 138.41 L815 139 L815.49 140.59 L816.71 141.84 L816.74 143.65 L817.88 144.94 L818.28 146.57 L819.44 147.85 L819.8 149.5 L820.32 147.96 L820.28 146.29 L821.08 144.81 L821.08 143.16 L821.72 141.64 L821.76 139.99 L822.54 138.51 L822.23 136.78 L823 135.3 L822.99 137.28 L823.86 139.11 L823.63 141.13 L824.3 143 L825.15 141.48 L825.32 139.69 L826.47 138.29 L826.9 136.6 L826.89 138.29 L827.96 139.7 L827.75 141.44 L828.86 142.84 L828.56 144.61 L829.67 146.01 L829.37 147.78 L830.43 149.19 L830.24 150.92 L831.31 152.34 L831.4 154 L832.33 152.39 L832.41 150.46 L833.63 148.96 L833.76 147.04 L835.04 145.56 L835.3 143.7 L835.3 145.59 L836.27 147.31 L836.15 149.23 L836.92 150.98 L836.78 152.9 L837.3 154.7 L838 153.21 L838.06 151.52 L839.12 150.15 L839.14 148.43 L840.06 147.02 L840.07 145.31 L841.14 143.94 L841.13 142.22 L842.05 140.8 L842.4 139.2 L843.52 140.66 L845.24 141.51 L846.09 143.24 L847.6 144.3 L847.45 146 L848.31 147.62 L847.7 149.36 L848.56 150.97 L848.22 152.7 L848.75 154.34 L848.32 156.07 L849.01 157.7 L848.56 159.43 L849.31 161.05 L848.87 162.78 L849.64 164.4 L849.19 166.13 L850.14 167.73 L849.65 169.47 L850.46 171.09 L850.2 172.8 L850.71 171.21 L850.46 169.47 L851.43 167.98 L851.5 166.3 L852.99 165.19 L853.98 163.58 L855.63 162.63 L856.7 161.1 L857.84 159.61 L858.3 157.72 L859.88 156.5 L860.5 154.7 L861.25 153.17 L861.23 151.43 L862.22 149.96 L861.82 148.12 L862.99 146.7 L862.85 144.93 L863.83 143.46 L863.57 141.66 L864.67 140.22 L864.47 138.43 L865.58 137 L865.7 135.3 L867.41 135.21 L869 134.6 L870.25 136.05 L872.16 136.59 L873.5 137.9 L875.06 139.24 L877.05 139.9 L878.7 141.1 L879.79 142.44 L881.35 143.24 L882.29 144.74 L883.8 145.6 L884.66 147.29 L885.88 148.77 L886.58 150.56 L887.7 152.1 L888.02 153.76 L888.96 155.24 L888.93 157.01 L889.86 158.49 L889.71 160.29 L891.03 161.65 L890.79 163.49 L891.6 165 L892.03 166.73 L893.51 167.94 L893.75 169.77 L895.07 171.07 L895.5 172.8 L895.96 174.38 L897.09 175.68 L897.22 177.4 L898.27 178.73 L898.4 180.45 L899.4 181.8 L900.12 183.56 L901.72 184.7 L902.26 186.59 L903.87 187.73 L904.45 189.58 L905.8 190.9 L906.03 192.78 L907.45 194.2 L907.61 196.1 L908.65 197.67 L908.81 199.57 L909.7 201.2 L910.83 202.88 L912.6 204.01 L913.6 205.8 L915.08 204.91 L915.97 203.33 L917.5 202.5 L918.36 200.95 L918.3 199.09 L919.27 197.58 L919.34 195.76 L920.61 194.34 L920.58 192.5 L921.3 190.9 L922.11 189.39 L922 187.59 L922.99 186.13 L922.91 184.35 L924.16 182.97 L924.09 181.18 L925.11 179.73 L925.2 178 L925.95 176.4 L925.82 174.54 L926.88 173.03 L926.85 171.2 L927.86 169.67 L927.97 167.88 L929.12 166.4 L929.2 164.6 L930.58 163.69 L931.2 162.03 L932.81 161.35 L933.55 159.8 L935.09 159.05 L935.76 157.43 L937.42 156.81 L938.3 155.4 L939.17 157.2 L940.6 158.66 L941.4 160.5 L941.36 162.18 L942.24 163.72 L941.78 165.47 L942.86 166.97 L942.55 168.7 L943.25 170.26 L943.1 171.96 L943.67 173.54 L943.64 175.23 L944.26 176.8 L943.96 178.53 L944.94 180.04 L944.49 181.8 L945.36 183.33 L945.4 185 L945.38 186.62 L946.17 188.17 L945.5 189.86 L946.48 191.38 L946.08 193.04 L946.64 194.61 L946.21 196.27 L947.07 197.81 L946.45 199.49 L947.33 201.02 L946.94 202.68 L947.49 204.25 L947.13 205.91 L948.13 207.43 L947.43 209.12 L948.35 210.65 L947.93 212.31 L948.55 213.87 L948.5 215.5 L948.4 217.19 L949.47 218.68 L948.89 220.45 L949.78 221.98 L949.55 223.69 L950.43 225.21 L950.15 226.93 L951.07 228.45 L950.54 230.21 L951.59 231.71 L951.16 233.45 L952.13 234.96 L951.72 236.7 L952.63 238.22 L952.6 239.9 L952.6 241.53 L953.41 243.05 L953.07 244.72 L953.79 246.26 L953.42 247.93 L954.19 249.46 L953.77 251.14 L954.6 252.66 L954.09 254.36 L954.95 255.87 L954.82 257.52 L955.6 259.04 L955.15 260.73 L955.6 262.3 L955.66 264 L956.43 265.58 L956.13 267.34 L957.17 268.88 L956.66 270.68 L957.52 272.24 L957.27 274 L958.13 275.56 L957.85 277.32 L958.68 278.89 L958.7 280.6 L961.7 281.7 L962.87 280.54 L963.55 278.99 L964.98 278.04 L965.8 276.6 L966.4 278.21 L967.7 279.47 L967.9 281.29 L968.9 282.7 L969.18 284.41 L970.11 285.94 L969.88 287.8 L971.09 289.25 L970.85 291.11 L971.98 292.59 L971.85 294.41 L972.71 295.96 L972.78 297.73 L973.68 299.27 L973.9 301 L974.08 302.62 L974.96 304.05 L974.9 305.73 L975.64 307.2 L975.65 308.86 L976.44 310.32 L976.27 312.03 L977.33 313.42 L977.24 315.1 L978.09 316.55 L977.82 318.28 L978.92 319.66 L979 321.3 L978.89 322.94 L979.65 324.47 L979.39 326.12 L980.11 327.66 L979.81 329.32 L980.55 330.85 L980.21 332.52 L980.92 334.06 L980.5 335.73 L981.29 337.26 L980.82 338.94 L981.51 340.48 L981.23 342.14 L981.88 343.68 L981.71 345.33 L982.36 346.87 L982.08 348.53 L982.5 350.1 L982.69 351.88 L983.97 353.33 L983.82 355.21 L984.96 356.7 L985.1 358.5 L985.12 360.15 L985.9 361.69 L985.52 363.39 L986.28 364.94 L986.04 366.62 L986.81 368.17 L986.44 369.87 L987.14 371.42 L986.86 373.11 L987.69 374.65 L987.2 376.36 L988.07 377.9 L987.59 379.61 L988.39 381.15 L988.4 382.8 L988.49 384.5 L989.27 386.09 L988.88 387.86 L989.74 389.45 L989.16 391.24 L990.15 392.8 L989.9 394.55 L990.7 396.14 L990.21 397.92 L990.99 399.52 L990.81 401.25 L991.54 402.86 L991.32 404.6 L992.14 406.19 L991.61 407.98 L992.2 409.6 L992.13 411.35 L993.08 412.9 L992.73 414.7 L993.64 416.27 L993.43 418.04 L994.31 419.61 L994.28 421.35 L994.9 422.97 L994.85 424.71 L995.74 426.28 L995.43 428.07 L996 429.7 L996.4 431.33 L997.62 432.61 L997.78 434.35 L998.95 435.65 L999.3 437.3 L999.31 438.97 L1000.41 440.41 L1000.05 442.16 L1001.08 443.61 L1000.6 445.39 L1001.74 446.82 L1001.46 448.56 L1002.28 450.05 L1002.25 451.73 L1003.14 453.22 L1003.1 454.9 L1004.01 456.36 L1005.45 457.41 L1006.03 459.12 L1007.3 460.3 L1008.56 459.26 L1009.46 457.86 L1011.03 457.13 L1011.9 455.7 L1012.53 454.09 L1012.14 452.27 L1013.3 450.77 L1013.05 448.98 L1013.88 447.41 L1013.73 445.64 L1014.46 444.05 L1014.26 442.28 L1015.29 440.74 L1014.87 438.92 L1015.71 437.35 L1015.55 435.59 L1016.47 434.03 L1016.5 432.3 L1016.81 430.63 L1016.47 428.92 L1017.24 427.28 L1016.49 425.54 L1017.42 423.92 L1017 422.2 L1017.68 420.55 L1017.09 418.83 L1017.88 417.19 L1017.4 415.47 L1017.7 413.8 L1018.02 412.14 L1017.56 410.41 L1018.35 408.79 L1018.12 407.09 L1018.7 405.45 L1018.1 403.71 L1019.09 402.11 L1018.57 400.38 L1019.42 398.76 L1018.73 397.02 L1019.66 395.41 L1019.4 393.7 L1019.92 392.07 L1019.51 390.33 L1020.37 388.73 L1019.86 386.98 L1020.76 385.39 L1020.21 383.64 L1020.7 382 L1021.26 380.42 L1020.7 378.74 L1021.39 377.16 L1020.94 375.49 L1021.63 373.92 L1021.36 372.26 L1022 370.69 L1021.42 369.01 L1022.18 367.44 L1021.69 365.76 L1022.62 364.21 L1022 362.53 L1022.78 360.96 L1022.21 359.28 L1022.8 357.7 L1023.36 356.13 L1022.84 354.45 L1023.49 352.89 L1023.19 351.23 L1023.81 349.67 L1023.43 348 L1024.26 346.47 L1023.95 344.81 L1024.68 343.26 L1024.22 341.58 L1025.04 340.04 L1024.9 338.4 L1025.27 336.77 L1024.73 335.1 L1025.55 333.5 L1024.96 331.82 L1025.61 330.21 L1025.01 328.53 L1025.62 326.92 L1025.38 325.26 L1025.89 323.64 L1025.53 321.97 L1026.23 320.36 L1025.72 318.69 L1026.15 317.07 L1025.83 315.4 L1026.44 313.79 L1025.84 312.11 L1026.76 310.51 L1026 308.83 L1026.81 307.22 L1026.42 305.56 L1026.8 303.93 L1026.4 302.27 L1027.21 300.66 L1026.9 299 L1027.3 297.37 L1026.84 295.64 L1027.77 294.07 L1027.34 292.34 L1028.17 290.76 L1027.87 289.04 L1028.4 287.43 L1027.97 285.7 L1028.81 284.12 L1028.61 282.42 L1029.19 280.81 L1028.79 279.08 L1029.55 277.49 L1029.32 275.79 L1029.93 274.18 L1029.9 272.5 L1030.98 271.01 L1031.21 269.09 L1032.57 267.74 L1032.81 265.83 L1034 264.4 L1034.65 266 L1036.32 266.83 L1037 268.4 L1038.44 270.06 L1040.1 271.5 L1040.78 269.86 L1040.6 267.99 L1041.86 266.51 L1041.75 264.65 L1042.64 263.07 L1042.59 261.24 L1043.65 259.7 L1043.61 257.86 L1044.2 256.2 L1044.69 254.64 L1044.35 252.94 L1045.38 251.47 L1045.09 249.78 L1045.81 248.25 L1045.41 246.55 L1046.41 245.07 L1046 243.36 L1046.96 241.87 L1046.59 240.17 L1047.21 238.63 L1047.3 237 L1047.7 235.41 L1047.44 233.73 L1048.16 232.18 L1048 230.51 L1048.64 228.96 L1048.52 227.29 L1048.9 225.7 L1049.51 224.13 L1049 222.45 L1049.85 220.9 L1049.22 219.2 L1049.96 217.65 L1049.5 215.97 L1050.1 214.4 L1050.57 212.68 L1050.33 210.82 L1051.24 209.18 L1051.22 207.36 L1052.07 205.71 L1052.1 203.9 L1052.52 202.18 L1052.3 200.35 L1053.12 198.7 L1052.86 196.87 L1053.67 195.21 L1053.52 193.39 L1054.1 191.7 L1054.72 190.15 L1054.73 188.44 L1055.65 186.97 L1055.8 185.3 L1056.44 183.74 L1056.35 181.99 L1057.33 180.51 L1057.4 178.8 L1058.93 177.75 L1060.2 176.4 L1062.6 176 L1064.3 177.2 L1067.1 178 L1069.1 175.6 L1069.88 174.02 L1070.3 172.3 L1071.78 170.91 L1072.7 169.1 L1073.35 167.53 L1073.14 165.74 L1074.24 164.29 L1074.4 162.6 L1076.01 161.19 L1077.2 159.4 L1079.6 159.54 L1082 159.4 L1082.49 161.08 L1083.41 162.59 L1083.57 164.39 L1084.5 165.9 L1086.9 167.5 L1088.38 166.11 L1089.3 164.3 L1090.2 162.8 L1090 160.98 L1091.08 159.54 L1090.99 157.75 L1091.7 156.2 L1093.19 154.67 L1094.23 152.76 L1095.8 151.3 L1096.71 153.16 L1098.2 154.6 L1098.79 156.64 L1100.46 158.14 L1101 160.2 L1101.03 162.02 L1102.13 163.58 L1101.94 165.46 L1102.94 167.05 L1102.79 168.91 L1103.83 170.49 L1103.9 172.3 L1103.81 174.08 L1104.76 175.73 L1104.31 177.56 L1105.1 179.23 L1104.65 181.07 L1105.62 182.71 L1105.5 184.5 L1105.33 186.21 L1106.08 187.84 L1105.51 189.58 L1106.36 191.21 L1105.95 192.93 L1106.53 194.58 L1106.11 196.31 L1106.72 197.95 L1106.42 199.67 L1107.25 201.3 L1106.76 203.03 L1107.1 204.7 L1107.32 206.4 L1108.4 207.84 L1108.13 209.68 L1109.36 211.08 L1109.5 212.8 L1109.68 214.65 L1110.75 216.25 L1110.74 218.15 L1111.82 219.75 L1112 221.6 L1112.67 223.19 L1114.09 224.32 L1114.52 226.05 L1115.84 227.25 L1116.4 228.9 L1117.89 227.52 L1118.61 225.56 L1120 224.1 L1120.81 222.54 L1121.14 220.77 L1122.35 219.37 L1122.38 217.48 L1123.79 216.18 L1124.1 214.4 L1124.74 212.73 L1124.84 210.91 L1125.62 209.27 L1125.47 207.39 L1126.68 205.86 L1126.63 204.01 L1127.59 202.41 L1127.7 200.6 L1128.42 198.94 L1127.95 197.09 L1128.76 195.45 L1128.41 193.61 L1129.48 192.02 L1129.22 190.2 L1129.7 188.5 L1130.37 186.95 L1130.01 185.21 L1130.91 183.7 L1130.65 181.98 L1131.42 180.45 L1131.24 178.74 L1132.1 177.23 L1131.82 175.5 L1132.8 174.01 L1132.54 172.29 L1133 170.7 L1133.59 168.99 L1133.38 167.1 L1134.52 165.52 L1134.28 163.63 L1135.32 162.02 L1135.4 160.2 L1136.39 161.76 L1137.9 162.89 L1138.69 164.6 L1140 165.9 L1141.56 165 L1142.9 163.8 L1145.03 163.89 L1147 163.1 L1148.94 163.81 L1151 163.8 L1151.8 165.61 L1153.38 166.85 L1154.4 168.5 L1154.39 170.17 L1155.3 171.64 L1155.12 173.34 L1156.08 174.8 L1155.94 176.49 L1156.66 178.01 L1156.45 179.71 L1157.49 181.16 L1157.13 182.9 L1157.99 184.38 L1157.77 186.09 L1158.74 187.55 L1158.54 189.25 L1159.1 190.8 L1159.68 192.61 L1161 194.05 L1161.53 195.89 L1162.5 197.5 L1164 196.33 L1165.05 194.72 L1166.5 193.5 L1167.87 192.07 L1168.53 190.13 L1169.9 188.7 L1170.74 190.12 L1172.43 190.7 L1173.3 192.1 L1174.81 193.42 L1176.7 194.1 L1176.95 196.13 L1178.26 197.78 L1178.49 199.81 L1179.4 201.6 L1180.63 202.77 L1182.1 203.6 L1183.32 205.4 L1184.8 207 L1185.09 208.82 L1186.22 210.36 L1186.35 212.24 L1187.49 213.78 L1187.24 215.78 L1188.38 217.32 L1188.8 219.1 L1188.94 220.74 L1189.49 222.31 L1189.25 224.02 L1190.28 225.51 L1190 227.23 L1190.56 228.8 L1190.39 230.49 L1191.2 232.02 L1191.09 233.7 L1191.5 235.3 L1191.7 237.01 L1192.37 238.64 L1192.32 240.4 L1193.07 242.01 L1192.89 243.8 L1193.74 245.38 L1193.66 247.15 L1194.2 248.8 L1195.27 247.58 L1195.66 245.9 L1196.9 244.8 L1197.53 243.25 L1197.46 241.52 L1198.45 240.07 L1198.38 238.34 L1199.29 236.87 L1199.33 235.16 L1200.08 233.65 L1199.99 231.91 L1201.11 230.5 L1200.98 228.75 L1201.6 227.2 L1202.89 225.5 L1203.51 223.38 L1205 221.8 L1206.48 220.59 L1207.46 218.86 L1209.1 217.8 L1210.94 216.74 L1212.11 214.93 L1213.8 213.7 L1214.63 215.32 L1216.21 216.32 L1217.2 217.8 L1219.9 219.1 L1220.41 221.19 L1221.2 223.2 L1221.65 221.6 L1221.41 219.9 L1222.19 218.34 L1221.83 216.63 L1222.71 215.09 L1222.21 213.35 L1222.95 211.79 L1222.8 210.11 L1223.59 208.55 L1223.28 206.84 L1224.11 205.29 L1223.9 203.6 L1223.64 205.27 L1224.36 206.86 L1224.06 208.53 L1224.63 210.14 L1224.28 211.81 L1224.88 213.41 L1224.66 215.08 L1225.14 216.69 L1224.86 218.36 L1225.43 219.96 L1225.04 221.64 L1225.85 223.23 L1225.23 224.92 L1226.03 226.51 L1225.42 228.2 L1226.21 229.79 L1225.82 231.47 L1226.43 233.07 L1225.95 234.75 L1226.88 236.33 L1226.6 238 L1227.27 236.37 L1226.78 234.58 L1227.52 232.96 L1227.44 231.23 L1228.23 229.62 L1227.69 227.81 L1228.65 226.23 L1228.6 224.5 L1228.53 226.18 L1229.72 227.57 L1229.29 229.33 L1230.25 230.78 L1230.08 232.48 L1230.7 234 L1231.19 232.44 L1230.93 230.76 L1231.72 229.24 L1231.54 227.58 L1232.1 226.03 L1231.99 224.37 L1232.73 222.85 L1232.26 221.14 L1233.26 219.65 L1232.97 217.97 L1233.4 216.4" stroke="#000" stroke-width="1.6" fill="none" stroke-linejoin="round"/>
<path d="M938.4 147.3V161.8" stroke="#000" stroke-width="2.6" fill="none"/>
<path d="M965.6 269.2V284.6" stroke="#000" stroke-width="2.2" fill="none"/>
<path d="M1034.1 256.4V270.2" stroke="#000" stroke-width="2.6" fill="none"/>
<path d="M166.4 137.3V152.5 M170.2 137.3V152.5 M268.7 109.5V122.6 M263.3 115.8V128.4 M878.7 132.7V146.9 M1061.9 167.5V182 M1096.4 144.4V159.4 M1135.5 155V169.2 M1182.1 196.2V211 M1202.3 215.1V228.6 M168.7 154.1 L168.7 174.6 M263.3 128.4 L265.1 129.4 L265.1 148.3 M685.4 235.7 L685.4 254.4 M735.9 170.4 L736.1 176.2 L732.6 184.6 L732.6 190.2 M748.5 150.7 L748.5 157.5 L751.7 164.6 L751.7 170 M788.7 166 L788.7 186 M914.4 213.3 L914.4 230.9 M960.6 288.9 L960.6 308.2 M1007.7 467.8 L1007.7 486.6 M1041.1 278.6 L1041.1 299 M1116.6 236 L1116.6 256.2 M1195.3 257.6 L1195.3 278.5" stroke="#000" stroke-width="1.5" fill="none"/>
<g transform="translate(194.1 992.7) rotate(-90) scale(1.42 1)"><text class="pk" x="-45.36" y="0" style="font-size:14px;letter-spacing:-0.75px;">3209,55</text></g>
<g transform="translate(264.8 970.3) rotate(-90) scale(1.42 1)"><text class="pk" x="-45.36" y="0" style="font-size:14px;letter-spacing:-0.75px;">2933,73</text></g>
<g transform="translate(681 1014.95) rotate(-90) scale(1.42 1)"><text class="pk" x="-45.36" y="0" style="font-size:14px;letter-spacing:-0.75px;">1668,43</text><rect x="-45" y="-2.05" width="3.11" height="3.65" fill="#fff"/><rect x="-40.55" y="-2.05" width="3.09" height="3.65" fill="#fff"/></g>
<g transform="translate(791 990.55) rotate(-90) scale(1.42 1)"><text class="pk" x="-45.36" y="0" style="font-size:14px;letter-spacing:-0.75px;">1456,26</text><rect x="-45" y="-2.05" width="3.11" height="3.65" fill="#fff"/><rect x="-40.55" y="-2.05" width="3.09" height="3.65" fill="#fff"/></g>
<g transform="translate(857.3 993.9) rotate(-90) scale(1.42 1)"><text class="pk" x="-45.36" y="0" style="font-size:14px;letter-spacing:-0.75px;">1330,88</text><rect x="-45" y="-2.05" width="3.11" height="3.65" fill="#fff"/><rect x="-40.55" y="-2.05" width="3.09" height="3.65" fill="#fff"/></g>
<g transform="translate(917 1016.05) rotate(-90) scale(1.42 1)"><text class="pk" x="-45.36" y="0" style="font-size:14px;letter-spacing:-0.75px;">1215,15</text><rect x="-45" y="-2.05" width="3.11" height="3.65" fill="#fff"/><rect x="-40.55" y="-2.05" width="3.09" height="3.65" fill="#fff"/><rect x="-30.93" y="-2.05" width="3.11" height="3.65" fill="#fff"/><rect x="-26.48" y="-2.05" width="3.09" height="3.65" fill="#fff"/><rect x="-13.72" y="-2.05" width="3.11" height="3.65" fill="#fff"/><rect x="-9.26" y="-2.05" width="3.09" height="3.65" fill="#fff"/></g>
<g transform="translate(963 1092.85) rotate(-90) scale(1.42 1)"><text class="pk" x="-45.36" y="0" style="font-size:14px;letter-spacing:-0.75px;">1126,43</text><rect x="-45" y="-2.05" width="3.11" height="3.65" fill="#fff"/><rect x="-40.55" y="-2.05" width="3.09" height="3.65" fill="#fff"/><rect x="-37.96" y="-2.05" width="3.11" height="3.65" fill="#fff"/><rect x="-33.51" y="-2.05" width="3.09" height="3.65" fill="#fff"/></g>
<g transform="translate(1011.9 1237.9) rotate(-90) scale(1.42 1)"><text class="pk" x="-45.36" y="0" style="font-size:14px;letter-spacing:-0.75px;">1029,99</text><rect x="-45" y="-2.05" width="3.11" height="3.65" fill="#fff"/><rect x="-40.55" y="-2.05" width="3.09" height="3.65" fill="#fff"/></g>
<g transform="translate(1042.8 1068.7) rotate(-90) scale(1.42 1)"><text class="pk" x="-38.32" y="0" style="font-size:14px;letter-spacing:-0.75px;">974,05</text></g>
<g transform="translate(1124.9 1026.15) rotate(-90) scale(1.42 1)"><text class="pk" x="-38.32" y="0" style="font-size:14px;letter-spacing:-0.75px;">817,82</text><rect x="-30.93" y="-2.05" width="3.11" height="3.65" fill="#fff"/><rect x="-26.48" y="-2.05" width="3.09" height="3.65" fill="#fff"/></g>
<g transform="translate(1195.5 1068.1) rotate(-90) scale(1.42 1)"><text class="pk" x="-38.32" y="0" style="font-size:14px;letter-spacing:-0.75px;">678,94</text></g>
<path d="M62.6 872.8 L63.4 875 L64.7 877.6 L65.32 876.1 L65.6 874.5 L66.6 873.3 L67.14 875.25 L68.73 876.66 L69.3 878.6 L70.54 877.26 L71.2 875.5 L72.5 874.2 L72.57 875.93 L73.52 877.47 L73.15 879.29 L74.03 880.85 L74.07 882.59 L74.95 884.15 L74.9 885.9 L75.83 884.26 L75.91 882.28 L77.07 880.73 L77.36 878.84 L78.3 877.2 L78.24 879.19 L79.1 881.03 L79.2 883 L79.8 880 L79.67 882.03 L80.81 883.87 L80.7 885.9 L81.47 884.32 L81.83 882.58 L82.6 881 L82.8 883.04 L84.02 884.83 L84.1 886.9 L85.48 885.83 L86.5 884.4 L87.59 886.22 L89 887.8 L89.38 889.82 L90.4 891.62 L90.9 893.6 L92.03 892.05 L92.8 890.3 L95.3 892.2 L95.3 893.99 L96.12 895.66 L95.89 897.48 L96.57 899.17 L96.43 900.98 L96.9 902.7 L97.79 901.31 L97.96 899.61 L98.8 898.2 L99.47 899.86 L100.76 901.22 L100.92 903.14 L102 904.6 L104.6 904.6 L105.08 906.31 L106.33 907.63 L106.54 909.48 L108.08 910.66 L108.5 912.4 L109.7 913.49 L111.1 914.3 L111.69 915.87 L113.02 917.02 L113.19 918.82 L114.3 920.1 L115.05 921.88 L116.72 923.01 L117.6 924.7 L118.41 926.39 L120.12 927.39 L120.79 929.19 L122.1 930.5 L122.61 932.27 L124.07 933.57 L124.14 935.55 L125.3 937 L126.2 938.47 L127.79 939.34 L128.57 940.92 L129.8 942.1 L130.95 943.55 L132.67 944.43 L133.7 946 L134.46 947.46 L135.8 948.49 L136.38 950.08 L137.6 951.2 L138.46 952.73 L140.11 953.57 L140.78 955.27 L142.1 956.4 L143.24 957.57 L144.87 958.06 L145.78 959.56 L147.3 960.2 L148.87 961.55 L150.91 962.18 L152.5 963.5 L153.79 964.72 L155.48 965.33 L156.77 966.55 L158.3 967.4 L159.91 968.37 L161.92 968.25 L163.5 969.3 L165.06 969.94 L166.8 969.7 L168.34 970.46 L170 970.6 L171.99 970.23 L173.8 969.3 L175.73 969.74 L177.67 968.92 L179.6 969.3 L181.51 969.13 L183.17 967.97 L185.1 967.9 L186.8 967.15 L188.15 965.78 L189.9 965.1 L191.75 964.32 L192.92 962.57 L194.7 961.7 L196.01 960.65 L196.74 959.07 L198.23 958.18 L198.77 956.45 L200.2 955.5 L201.67 954.58 L202.74 953.13 L204.59 952.72 L205.49 951.03 L207.34 950.63 L208.5 949.3 L210.08 948.82 L211.11 947.4 L212.8 947.11 L213.88 945.79 L215.4 945.2 L216.86 944.18 L217.87 942.62 L219.5 941.8 L221.3 941.11 L222.68 939.71 L224.57 939.17 L225.91 937.71 L227.7 937 L229.23 936.09 L230.31 934.61 L232.03 933.94 L233.01 932.34 L234.6 931.5 L236.18 930.66 L237.18 929.08 L238.81 928.31 L240.1 927.1 L241.72 927.17 L243.28 926.64 L244.9 926.7 L246.32 928.09 L248.33 928.64 L249.7 930.1 L250.8 931.75 L252.72 932.58 L253.55 934.5 L255.2 935.6 L256.28 937.12 L257.98 938.09 L258.66 939.97 L260.28 941.01 L261.4 942.5 L262.7 941.4 L263.7 940 L265.26 939.16 L266.2 937.7 L267.69 937.07 L268.88 935.92 L270.52 935.54 L271.61 934.22 L273.2 933.75 L274.5 932.8 L276.01 931.56 L277.04 929.84 L278.76 928.81 L280 927.3 L281.34 926.07 L282.07 924.32 L283.73 923.37 L284.51 921.66 L286.07 920.63 L286.92 918.98 L288.2 917.7 L289.97 916.96 L291.34 915.55 L293.22 914.99 L294.67 913.71 L296.4 912.9 L298.09 912.81 L299.46 911.65 L301.17 911.63 L302.59 910.65 L304.37 910.85 L305.79 909.85 L307.4 909.5 L309.02 909.05 L310.48 908.16 L312.24 908.08 L313.62 906.98 L315.38 906.91 L316.71 905.66 L318.4 905.4 L320.08 905.35 L321.59 904.5 L323.34 904.78 L324.78 903.62 L326.55 903.94 L328.1 903.3 L329.7 903.06 L331.09 902.09 L332.79 902.23 L334.17 901.24 L335.8 901.1 L337.45 901.12 L338.99 900.34 L340.67 900.6 L342.24 900.01 L343.94 900.45 L345.5 899.8 L347.43 899.19 L348.85 897.66 L350.7 896.9 L352.38 897.08 L353.92 896.22 L355.63 896.65 L357.2 896 L358.82 896.27 L360.38 895.53 L362.01 895.91 L363.6 895.6 L366.2 893.9 L368.16 893.91 L370.07 893.24 L372.06 893.67 L374 893.4 L376.03 893.25 L377.73 891.93 L379.86 892.13 L381.7 891.3 L384.01 891.34 L386.3 891 L388.36 890.75 L390.03 889.31 L392.1 889.1 L393.95 889.19 L395.66 888.29 L397.54 888.57 L399.27 887.82 L401.1 887.8 L402.7 888.44 L404.4 888.7 L405.64 887.5 L406.3 885.9 L407.12 884.46 L407.24 882.76 L408.15 881.35 L408.23 879.63 L409.33 878.29 L409.4 876.57 L410.46 875.22 L410.8 873.6 L410.91 875.43 L412.2 876.92 L412.16 878.79 L412.99 880.41 L413.07 882.25 L413.8 883.9 L414.93 882.48 L414.9 880.54 L416.2 879.2 L416.7 877.5 L417.86 878.9 L419.3 880 L420.32 881.61 L422.14 882.48 L422.81 884.42 L424.4 885.5 L426.39 885.39 L428.3 884.8 L430.13 884.77 L431.68 883.59 L433.5 883.5 L435.21 883.85 L436.95 883.19 L438.64 883.91 L440.38 883.4 L442.08 883.99 L443.8 883.9 L445.39 884.41 L447.13 884.14 L448.64 885.07 L450.3 885.2 L451.99 884.66 L453.14 883.19 L454.8 882.6 L456.8 884.3 L459.3 882.6 L461.21 882.09 L462.65 880.64 L464.5 880 L465.64 881.28 L467.1 882.2 L469 882.82 L471 883 L473.6 884.6 L475.51 885.06 L477.46 884.37 L479.36 885.19 L481.3 884.8 L483.9 884.3 L485.76 885.15 L487.8 885.2 L488.71 883.52 L489.3 881.7 L490.21 883.34 L491.6 884.6 L493.02 883.26 L494.2 881.7 L495.4 882.91 L496.8 883.9 L498.83 882.94 L500.7 881.7 L500.97 883.59 L502 885.2 L503.07 886.5 L504.6 887.2 L506.18 886.18 L507.2 884.6 L508.36 885.75 L509.8 886.5 L511.7 886.83 L513.6 886.5 L515.35 886.42 L516.9 885.6 L518.26 886.84 L520.08 887.41 L521.4 888.7 L523 888.91 L524.6 888.7 L527.2 886.9 L528.73 887.84 L530.4 888.5 L532.28 889.36 L534.3 889.8 L535.9 888.68 L536.67 886.79 L538.2 885.6 L540.05 886.47 L542.1 886.5 L543.18 888.32 L544.7 889.8 L546.51 889.03 L547.91 887.53 L549.8 886.9 L551.8 888.7 L553.35 887.94 L554.31 886.46 L555.7 885.5 L557.6 885.9 L558.65 887.54 L560.2 888.7 L562.22 887.95 L564.1 886.9 L565.73 886.74 L567.22 885.84 L568.93 886.07 L570.5 885.6 L571.19 887.11 L572.61 888.17 L573.1 889.8 L574.59 888.69 L575.7 887.2 L577.48 886.83 L579.11 885.95 L580.9 885.6 L583.5 887.2 L584.19 888.68 L585.55 889.74 L586.1 891.3 L587.11 889.78 L587.46 887.9 L588.7 886.5 L591.2 885.6 L591.85 887.13 L593.31 888.17 L593.8 889.8 L595.35 889.16 L596.26 887.67 L597.83 887.05 L599 885.9 L600.83 887.11 L602.9 887.8 L604.53 887.66 L606.1 887.2 L608.1 889.5 L610 889.84 L611.9 889.5 L612.77 891.32 L613.9 893 L614.47 891.3 L614.34 889.43 L615.2 887.8 L616.8 888.87 L618.75 889.25 L620.3 890.4 L620.88 892.15 L622.16 893.54 L622.64 895.35 L623.6 896.9 L625.5 895.54 L626.8 893.6 L627.53 895.18 L629.27 895.92 L630 897.5 L631.19 898.7 L632.73 899.48 L633.9 900.7 L633.84 902.35 L634.87 903.83 L634.4 905.55 L635.31 907.04 L634.89 908.76 L635.5 910.3 L636.74 911.41 L638.41 911.91 L639.6 913.1 L640.58 914.84 L642.11 916.17 L643.1 917.9 L643.09 919.79 L643.62 921.63 L643.11 923.56 L643.7 925.4 L645.29 924.25 L646.5 922.7 L647.61 924.52 L649.49 925.68 L650.6 927.5 L650.44 929.28 L651.38 930.89 L651.16 932.67 L651.89 934.31 L651.68 936.1 L652.57 937.71 L652.03 939.55 L652.7 941.2 L653.81 939.47 L654.28 937.43 L655.4 935.7 L655.58 937.58 L656.66 939.22 L656.51 941.18 L657.3 942.9 L658.43 944.67 L660.01 946.08 L661.2 947.8 L661.06 949.57 L661.49 951.33 L661.4 953.1 L661.6 955.13 L662.4 957 L663.82 955.66 L665 954.1 L665.7 956.31 L666.7 958.4 L666.57 960.22 L667.33 961.94 L666.92 963.79 L667.79 965.5 L667.3 967.36 L667.9 969.1 L668.05 971.06 L668.86 972.92 L668.9 974.9 L670.9 975.4 L673.3 976.9 L673.4 978.68 L674.4 980.21 L674.31 982.04 L675.2 983.6 L675.77 985.62 L676.7 987.5 L679.1 988.5 L680.74 989.13 L682.5 989 L683.9 990.9 L683.71 992.91 L684.79 994.75 L684.42 996.78 L684.9 998.7 L686.05 997.09 L686.9 995.3 L689.3 995.8 L690.06 994.33 L689.85 992.56 L690.96 991.19 L690.82 989.44 L691.7 988 L692.49 990.03 L693.6 991.9 L694.67 990.1 L694.8 987.99 L695.6 986.1 L696.75 984.51 L697.5 982.7 L699.44 981.84 L700.9 980.3 L702.86 979.09 L704.3 977.3 L705.41 976.06 L705.41 974.25 L706.5 973 L708.16 973.03 L709.59 971.99 L711.29 972.19 L712.78 971.4 L714.45 971.51 L716 971 L717.52 970.11 L718.33 968.42 L719.98 967.68 L721.02 966.24 L722.4 965.2 L724.05 965.64 L725.7 965.2 L726.99 963.91 L727.37 962.03 L728.86 960.87 L729.23 958.98 L730.77 957.85 L731.5 956.2 L731.74 957.82 L732.71 959.2 L732.76 960.88 L733.59 962.31 L733.61 963.99 L734.68 965.34 L734.61 967.06 L735.4 968.5 L736.06 966.99 L736.19 965.3 L737.1 963.88 L737.27 962.21 L738.16 960.77 L738.08 959.02 L739.22 957.66 L739.23 955.94 L740.3 954.56 L740.5 952.9 L740.77 954.71 L741.58 956.38 L741.62 958.25 L742.67 959.85 L742.53 961.77 L743.59 963.37 L743.8 965.2 L744.77 963.76 L744.75 961.91 L745.93 960.55 L746.11 958.78 L747.29 957.42 L747.48 955.66 L748.56 954.26 L748.67 952.46 L749.6 951 L750.82 952.62 L752.88 953.28 L754.1 954.9 L754.96 953.43 L755.11 951.65 L756.22 950.28 L756.59 948.6 L757.4 947.1 L758.81 948.63 L760.6 949.7 L761.27 947.9 L760.94 945.95 L761.75 944.17 L761.23 942.2 L761.9 940.4 L762.33 938.77 L761.95 937.04 L762.9 935.47 L762.45 933.73 L762.9 932.1 L763.9 931.2 L766.3 930.9 L767.38 929.24 L767.8 927.3 L769.2 929.7 L769.35 931.41 L770.51 932.8 L770.7 934.5 L771.8 932.99 L771.77 930.98 L773.28 929.65 L773.6 927.8 L774.54 929.68 L776 931.2 L776.29 933.05 L777.16 934.75 L777.23 936.65 L777.9 938.4 L777.97 940.17 L779.01 941.72 L778.88 943.53 L779.4 945.2 L780.64 943.94 L781.3 942.3 L781.98 944.41 L783.3 946.2 L783.78 947.76 L784.7 949.1 L784.57 950.76 L785.22 952.35 L785.2 954 L785.45 955.92 L786.54 957.55 L786.58 959.54 L787.6 961.2 L788.47 959.74 L788.28 957.95 L789.31 956.54 L789.6 954.9 L791 953.9 L792.33 952.52 L792.56 950.47 L793.9 949.1 L795.4 948.6 L795.83 950.36 L796.96 951.87 L796.82 953.83 L797.8 955.4 L799.3 954.4 L800.36 955.94 L802.15 956.75 L803.2 958.3 L803.56 959.93 L804.82 961.2 L804.63 963.05 L805.89 964.32 L805.91 966.09 L807.14 967.37 L807.5 969 L808.93 967.83 L809.93 966.23 L811.4 965.1 L813.56 965.77 L815.8 966.1 L816.7 967.6 L818.2 968.5 L820.07 967.58 L821.29 965.83 L823 964.7 L824.7 965.02 L826.4 964.7 L826.99 966.33 L828.19 967.62 L828.66 969.31 L829.87 970.6 L830.5 972.2 L832.23 972.13 L833.73 971.2 L835.4 970.9 L837.4 972.2 L838.44 970.75 L838.91 968.97 L840.15 967.62 L840.9 966 L842.5 964.87 L843.4 963.04 L845 961.9 L845.44 963.68 L846.78 965.01 L847.2 966.8 L848.47 968.16 L848.8 970 L849.8 971.5 L851.18 970.34 L851.9 968.63 L853.2 967.4 L855.4 966.71 L857.3 965.4 L858.64 964.25 L859.05 962.4 L860.75 961.51 L861.19 959.68 L862.7 958.66 L863.5 957.1 L865.64 957.13 L867.57 956 L869.7 956 L871.32 956.53 L873.05 956.19 L874.65 956.88 L876.36 956.71 L878 957.1 L879.15 958.34 L880.83 958.79 L881.89 960.16 L883.64 960.51 L884.59 962.05 L886.2 962.6 L886.95 964.12 L888.62 964.9 L889.17 966.57 L890.58 967.57 L891.14 969.24 L892.61 970.18 L893.23 971.8 L894.5 972.9 L895.69 974.32 L897.42 975.16 L898.49 976.72 L900.12 977.66 L901.3 979.1 L902.51 980.42 L904.2 981.12 L905.28 982.6 L907.06 983.2 L908.2 984.6 L909.6 986.02 L911.57 986.63 L913 988 L915.2 987.3 L917.1 986 L918.13 984.5 L918.52 982.68 L919.62 981.21 L920.1 979.43 L921.39 978.06 L921.9 976.3 L922.82 974.71 L922.57 972.76 L923.76 971.25 L923.57 969.32 L924.79 967.82 L924.67 965.91 L925.83 964.39 L926.1 962.6 L927.25 961.26 L927.35 959.35 L928.76 958.15 L929.21 956.43 L930.2 955 L932.39 954.3 L934.3 953 L936.9 953.9 L937.25 955.5 L938.39 956.77 L938.66 958.41 L939.65 959.74 L939.79 961.43 L940.91 962.71 L941.3 964.3 L941.16 966.09 L942.14 967.71 L941.72 969.54 L942.75 971.16 L942.23 973.01 L943.15 974.64 L942.75 976.46 L943.71 978.09 L943.3 979.92 L943.9 981.6 L943.79 983.28 L944.6 984.83 L944.23 986.54 L945.11 988.08 L944.57 989.81 L945.59 991.34 L945.03 993.07 L946.02 994.6 L945.48 996.33 L946.41 997.87 L946.06 999.58 L946.74 1001.15 L946.39 1002.85 L947.37 1004.38 L946.88 1006.11 L947.4 1007.7 L947.65 1009.31 L948.64 1010.71 L948.41 1012.46 L949.39 1013.87 L949.41 1015.54 L950.27 1016.98 L950.05 1018.72 L951.1 1020.11 L951.03 1021.81 L951.7 1023.3 L951.56 1024.94 L952.24 1026.48 L952.01 1028.14 L952.93 1029.65 L952.35 1031.34 L953.16 1032.87 L952.75 1034.54 L953.62 1036.06 L953.3 1037.72 L953.9 1039.28 L953.49 1040.95 L954.32 1042.47 L954.3 1044.1 L954.41 1045.73 L955.23 1047.23 L954.81 1048.95 L955.62 1050.46 L955.35 1052.15 L956.28 1053.64 L956 1055.33 L956.79 1056.84 L956.37 1058.56 L957.38 1060.03 L957.04 1061.74 L957.85 1063.25 L957.8 1064.9 L959.55 1064.7 L961.2 1064.1 L962.21 1062.79 L962.5 1061.11 L963.74 1059.92 L963.77 1058.12 L965.08 1056.96 L965.6 1055.4 L967.18 1056.86 L969 1058 L969 1059.74 L970.2 1061.17 L969.9 1062.99 L970.85 1064.48 L970.74 1066.25 L971.89 1067.69 L971.77 1069.46 L972.69 1070.96 L972.49 1072.75 L973.66 1074.19 L973.53 1075.96 L974.46 1077.46 L974.39 1079.22 L975 1080.8 L975.1 1082.58 L976.3 1084.02 L976.15 1085.88 L977.41 1087.29 L977.27 1089.15 L978.1 1090.7 L978.12 1092.51 L978.87 1094.23 L978.62 1096.07 L979.21 1097.81 L978.91 1099.66 L979.5 1101.4 L979.62 1103.25 L980.6 1104.93 L980.39 1106.84 L981.32 1108.53 L980.98 1110.47 L981.7 1112.2 L981.86 1114.05 L982.63 1115.76 L982.6 1117.65 L983.52 1119.34 L983.45 1121.23 L984 1123 L984.03 1124.71 L984.6 1126.35 L984.35 1128.11 L985.31 1129.7 L984.92 1131.46 L985.49 1133.11 L985.22 1134.86 L985.8 1136.5 L985.7 1138.28 L986.8 1139.87 L986.32 1141.71 L987.17 1143.33 L986.82 1145.16 L987.66 1146.78 L987.42 1148.58 L988.22 1150.22 L988.08 1152.01 L988.91 1153.63 L988.9 1155.4 L989.12 1157.07 L990 1158.55 L990.08 1160.26 L991.12 1161.69 L991.2 1163.4 L991.14 1165.05 L991.96 1166.57 L991.66 1168.25 L992.44 1169.78 L992.07 1171.47 L992.85 1173 L992.33 1174.71 L993.42 1176.2 L993.04 1177.88 L993.8 1179.42 L993.23 1181.13 L994.09 1182.65 L993.83 1184.33 L994.3 1185.9 L994.63 1187.59 L995.94 1188.89 L995.93 1190.72 L997.18 1192.05 L997.08 1193.91 L998.22 1195.28 L998.28 1197.08 L999.3 1198.5 L1000.08 1199.93 L1001.25 1201.1 L1001.71 1202.74 L1002.9 1203.9 L1003.84 1205.33 L1005.22 1206.42 L1005.94 1208.03 L1007.36 1209.09 L1008.2 1210.6 L1009.85 1210.8 L1011.4 1210.2 L1012.21 1208.59 L1012.06 1206.75 L1012.75 1205.11 L1012.61 1203.27 L1013.54 1201.68 L1013.58 1199.89 L1014.37 1198.27 L1014.44 1196.48 L1015.14 1194.84 L1015.4 1193.1 L1015.85 1191.5 L1015.27 1189.83 L1016.11 1188.27 L1015.48 1186.59 L1016.34 1185.03 L1015.86 1183.36 L1016.57 1181.78 L1015.92 1180.11 L1016.82 1178.54 L1016.39 1176.88 L1016.87 1175.29 L1016.41 1173.63 L1017.28 1172.06 L1016.84 1170.4 L1017.2 1168.8 L1017.69 1167.23 L1017.22 1165.57 L1017.99 1164.03 L1017.7 1162.38 L1018.27 1160.83 L1017.92 1159.17 L1018.55 1157.62 L1018.1 1155.96 L1018.95 1154.43 L1018.5 1152.76 L1019.37 1151.24 L1018.8 1149.56 L1019.7 1148.04 L1019.5 1146.4 L1020.03 1144.75 L1019.61 1143 L1020.43 1141.38 L1019.97 1139.63 L1020.73 1138 L1020.07 1136.24 L1021.04 1134.63 L1020.8 1132.9 L1021.1 1131.11 L1020.94 1129.29 L1021.64 1127.53 L1021.12 1125.68 L1021.8 1123.92 L1021.7 1122.1 L1022.24 1120.53 L1021.75 1118.89 L1022.3 1117.32 L1021.83 1115.68 L1022.38 1114.11 L1022.04 1112.48 L1022.76 1110.92 L1022.09 1109.27 L1022.6 1107.7 L1023 1106.03 L1022.81 1104.28 L1023.53 1102.66 L1023.24 1100.89 L1024.04 1099.28 L1023.99 1097.54 L1024.64 1095.92 L1024.28 1094.13 L1024.9 1092.5 L1025.32 1090.72 L1025.1 1088.88 L1025.84 1087.14 L1025.26 1085.26 L1026.23 1083.54 L1025.78 1081.68 L1026.2 1079.9 L1026.53 1078.21 L1026.1 1076.49 L1026.68 1074.81 L1026.19 1073.09 L1026.73 1071.41 L1026.16 1069.69 L1026.6 1068 L1027.18 1066.44 L1026.57 1064.77 L1027.2 1063.22 L1026.84 1061.57 L1027.59 1060.02 L1027.02 1058.36 L1027.97 1056.83 L1027.35 1055.16 L1028.25 1053.63 L1027.73 1051.97 L1028.6 1050.44 L1027.93 1048.76 L1028.69 1047.22 L1028.43 1045.58 L1029.01 1044.02 L1028.9 1042.4 L1030.04 1040.99 L1030.52 1039.2 L1031.75 1037.84 L1032.14 1036 L1033.3 1034.6 L1034.23 1035.92 L1035.68 1036.79 L1036.16 1038.48 L1037.64 1039.33 L1038.5 1040.7 L1039.56 1039.42 L1040.01 1037.77 L1041.28 1036.62 L1041.62 1034.91 L1042.8 1033.7 L1043.34 1032.13 L1043 1030.43 L1043.72 1028.9 L1043.37 1027.19 L1044.27 1025.68 L1044.04 1024 L1044.68 1022.45 L1044.33 1020.75 L1045.3 1019.25 L1044.85 1017.53 L1045.93 1016.05 L1045.32 1014.3 L1046.39 1012.82 L1045.83 1011.09 L1046.92 1009.6 L1046.36 1007.87 L1047.16 1006.34 L1046.94 1004.66 L1047.79 1003.14 L1047.29 1001.42 L1048.35 999.93 L1047.87 998.21 L1048.83 996.71 L1048.47 995.01 L1049.39 993.5 L1048.87 991.77 L1049.71 990.25 L1049.7 988.6 L1050.37 987.09 L1050.07 985.33 L1051.19 983.93 L1051.12 982.23 L1051.88 980.74 L1051.76 979.02 L1052.8 977.6 L1052.49 975.84 L1053.49 974.41 L1053.44 972.72 L1054.1 971.2 L1055.43 970.04 L1056.06 968.35 L1057.35 967.16 L1058.01 965.5 L1059.3 964.3 L1060.46 965.61 L1062.01 966.47 L1063.06 967.91 L1064.72 968.65 L1065.6 970.28 L1067.1 971.2 L1068.37 970.16 L1069.3 968.78 L1070.85 968.02 L1071.48 966.34 L1073.01 965.56 L1073.75 963.98 L1075.29 963.21 L1076.17 961.78 L1077.5 960.8 L1079.16 961.5 L1081.03 961.05 L1082.7 961.7 L1084.05 963.17 L1085.7 964.3 L1087.28 963.07 L1087.99 961.09 L1089.5 959.8 L1091.26 958.84 L1092.23 956.95 L1094 956 L1094.78 957.56 L1096.28 958.6 L1096.75 960.38 L1098.35 961.35 L1099 963 L1099.74 964.91 L1101.44 966.21 L1102.2 968.1 L1102.33 969.77 L1103.63 971.05 L1103.49 972.8 L1104.39 974.22 L1104.35 975.94 L1105.56 977.25 L1105.42 979 L1106.47 980.37 L1106.7 982 L1107.3 983.61 L1108.73 984.76 L1108.86 986.64 L1110.31 987.78 L1110.74 989.49 L1111.7 990.9 L1112.39 992.64 L1113.97 993.78 L1114.6 995.57 L1115.97 996.85 L1116.8 998.5 L1118.45 999.08 L1120.22 998.83 L1121.9 999.2 L1123.3 997.89 L1124.28 996.2 L1126.03 995.2 L1127 993.5 L1127.78 992.04 L1127.42 990.27 L1128.56 988.91 L1128.38 987.2 L1129.41 985.8 L1129.24 984.09 L1130.25 982.69 L1130 980.95 L1130.8 979.5 L1132.13 977.96 L1132.47 975.87 L1133.94 974.41 L1134.6 972.5 L1136.47 972.99 L1138.43 972.79 L1140.26 973.57 L1142.24 973.22 L1144.1 973.8 L1145.37 974.87 L1147.17 975.01 L1148.28 976.36 L1149.8 977 L1150.6 978.66 L1152.3 979.67 L1152.7 981.62 L1154.32 982.68 L1154.93 984.48 L1156.2 985.8 L1157.25 987.42 L1159.03 988.42 L1159.63 990.42 L1161.2 991.6 L1162.6 992.99 L1164.64 993.46 L1165.76 995.25 L1167.6 996 L1168.2 997.94 L1169.72 999.38 L1170.2 1001.38 L1171.4 1003 L1172.39 1004.68 L1174.14 1005.68 L1174.95 1007.52 L1176.5 1008.7 L1177.2 1010.42 L1178.61 1011.73 L1179.11 1013.57 L1180.3 1015 L1181.45 1016.39 L1183.01 1017.36 L1184.1 1018.8 L1184.39 1020.53 L1185.32 1022.04 L1185.55 1023.79 L1186.48 1025.3 L1186.43 1027.14 L1187.66 1028.56 L1187.9 1030.3 L1188.43 1031.88 L1189.77 1033.07 L1189.91 1034.85 L1191.1 1036.1 L1191.24 1037.88 L1192.3 1039.2 L1193.84 1037.93 L1194.63 1036.02 L1196.1 1034.7 L1198.01 1033.92 L1199.34 1032.26 L1201.2 1031.4 L1202.54 1032.84 L1204.3 1033.7 L1205.7 1032.76 L1206.7 1031.4 L1209 1031 L1211 1029 L1212.45 1030.93 L1214.5 1032.2 L1216.45 1031.3 L1218 1029.8 L1218.86 1031.63 L1220 1033.3 L1220.76 1031.81 L1220.79 1030.04 L1221.99 1028.72 L1222.4 1027.1 L1223.02 1028.91 L1223.9 1030.6 L1225.1 1029 L1225.19 1030.62 L1225.98 1032.1 L1225.57 1033.81 L1226.3 1035.3 L1226.82 1033.5 L1226.47 1031.58 L1227.1 1029.8 L1226.92 1031.73 L1227.7 1033.54 L1227.43 1035.48 L1228.43 1037.27 L1228.2 1039.2 L1228.3 1041.1 L1229.3 1042.8 L1229.4 1044.7 L1230.04 1042.98 L1229.78 1041.05 L1231.03 1039.47 L1231 1037.6 L1231.76 1035.34 L1232.2 1033" stroke="#000" stroke-width="1.6" fill="none" stroke-linejoin="round"/>
<path d="M1033 1026.5V1041" stroke="#000" stroke-width="2.6" fill="none"/>
<path d="M784.7 941.3V955 M791 945.2V960.3 M189.6 956.6V971.2 M219.6 934.2V948.8 M245.1 919.8V934.9 M307.4 902.6V917.7 M672.2 967.1V980.7 M679.1 979.6V993.3 M852.5 960.5V975 M870.8 948.9V962.6 M878.4 949.5V964.7 M933.6 945.4V959.9 M965.6 1047.6V1061.5 M1059.3 957.4V971.2 M1095.2 949.7V963.6 M1135 964.3V978.2 M1145 967.4V980.8 M1198 1027.1V1040.4 M190.9 972.7 L190.9 992.6 M262.4 949.3 L262.4 970 M677.8 995.6 L677.8 1013.7 M788.1 969.8 L788.1 988.5 M853.2 975 L853.2 991.5 M914.1 995.6 L914.1 1014.1 M959.2 1072.8 L959.2 1092.7 M1009.4 1217.6 L1009.4 1236.7 M1039.3 1048.5 L1039.3 1068.4 M1120.6 1006.2 L1120.6 1025.8 M1192.3 1047.4 L1192.3 1069" stroke="#000" stroke-width="1.5" fill="none"/>
</svg>
</body></html>
